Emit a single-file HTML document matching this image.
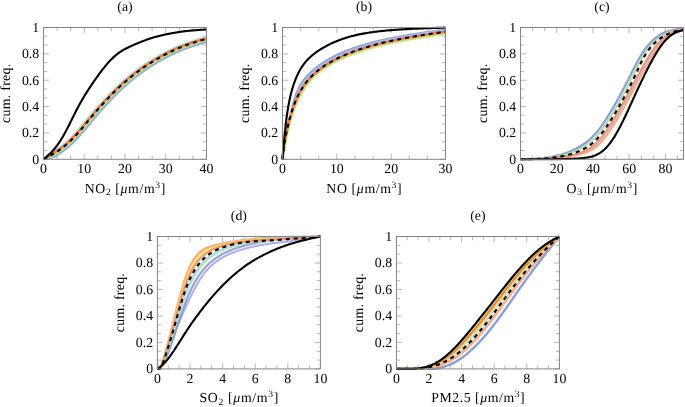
<!DOCTYPE html><html><head><meta charset="utf-8"><style>html,body{margin:0;padding:0;background:#fff;overflow:hidden;}svg{display:block;will-change:transform;}text{font-family:"Liberation Serif",serif;fill:#000;text-rendering:geometricPrecision;}</style></head><body>
<svg width="685" height="407" viewBox="0 0 685 407">
<rect width="685" height="407" fill="#fff"/>
<clipPath id="clipa"><rect x="42.00" y="26.00" width="166.00" height="134.80"/></clipPath>
<path d="M43.50 159.30v-5.60M43.50 27.50v5.60M57.08 159.30v-3.70M57.08 27.50v3.70M70.67 159.30v-3.70M70.67 27.50v3.70M84.25 159.30v-5.60M84.25 27.50v5.60M97.83 159.30v-3.70M97.83 27.50v3.70M111.42 159.30v-3.70M111.42 27.50v3.70M125.00 159.30v-5.60M125.00 27.50v5.60M138.58 159.30v-3.70M138.58 27.50v3.70M152.17 159.30v-3.70M152.17 27.50v3.70M165.75 159.30v-5.60M165.75 27.50v5.60M179.33 159.30v-3.70M179.33 27.50v3.70M192.92 159.30v-3.70M192.92 27.50v3.70M206.50 159.30v-5.60M206.50 27.50v5.60M43.50 159.30h5.60M206.50 159.30h-5.60M43.50 150.51h3.70M206.50 150.51h-3.70M43.50 141.73h3.70M206.50 141.73h-3.70M43.50 132.94h5.60M206.50 132.94h-5.60M43.50 124.15h3.70M206.50 124.15h-3.70M43.50 115.37h3.70M206.50 115.37h-3.70M43.50 106.58h5.60M206.50 106.58h-5.60M43.50 97.79h3.70M206.50 97.79h-3.70M43.50 89.01h3.70M206.50 89.01h-3.70M43.50 80.22h5.60M206.50 80.22h-5.60M43.50 71.43h3.70M206.50 71.43h-3.70M43.50 62.65h3.70M206.50 62.65h-3.70M43.50 53.86h5.60M206.50 53.86h-5.60M43.50 45.07h3.70M206.50 45.07h-3.70M43.50 36.29h3.70M206.50 36.29h-3.70M43.50 27.50h5.60M206.50 27.50h-5.60" stroke="#a4a4a4" stroke-width="0.8" fill="none"/>
<g clip-path="url(#clipa)" fill="none" stroke-linejoin="round" stroke-linecap="butt">
<path d="M43.50 159.30L44.67 159.03L45.84 158.75L47.01 158.47L48.19 158.19L49.37 157.90L50.56 157.61L51.75 157.31L52.95 157.00L54.16 156.69L55.25 156.14L56.29 155.51L57.34 154.85L58.39 154.18L59.23 153.64L60.07 153.07L60.91 152.50L61.76 151.91L62.60 151.31L63.44 150.69L64.29 150.05L65.13 149.40L65.98 148.74L66.82 148.06L67.66 147.36L68.51 146.64L69.35 145.91L70.19 145.17L71.03 144.40L71.87 143.62L72.71 142.83L73.55 142.02L74.38 141.19L75.22 140.35L76.05 139.49L76.89 138.62L77.72 137.74L78.55 136.84L79.38 135.93L80.21 135.01L81.04 134.08L81.87 133.14L82.70 132.18L83.52 131.22L84.35 130.25L85.17 129.28L85.99 128.30L86.81 127.31L87.63 126.33L88.45 125.34L89.27 124.35L90.08 123.35L90.90 122.37L91.71 121.38L92.53 120.40L93.34 119.42L94.15 118.44L94.96 117.47L95.78 116.50L96.59 115.55L97.39 114.60L98.20 113.65L99.01 112.72L99.82 111.79L100.63 110.87L101.43 109.96L102.24 109.06L103.05 108.16L103.86 107.27L104.67 106.38L105.48 105.50L106.29 104.62L107.10 103.75L107.91 102.89L108.72 102.02L109.53 101.17L110.34 100.32L111.15 99.47L111.96 98.63L112.77 97.80L113.58 96.97L114.38 96.15L115.19 95.34L116.00 94.53L116.81 93.73L117.61 92.93L118.42 92.14L119.23 91.36L120.03 90.59L120.84 89.82L121.64 89.07L122.45 88.31L123.25 87.57L124.06 86.84L124.86 86.11L125.67 85.39L126.47 84.69L127.27 83.99L128.07 83.29L128.88 82.61L129.68 81.93L130.48 81.26L131.29 80.60L132.09 79.95L132.90 79.30L133.70 78.65L134.51 78.01L135.31 77.38L136.12 76.75L136.93 76.13L137.74 75.51L138.54 74.89L139.35 74.28L140.16 73.68L140.96 73.08L141.97 72.34L142.97 71.61L143.98 70.90L144.98 70.19L145.98 69.49L146.98 68.80L147.98 68.13L148.98 67.47L149.98 66.82L150.99 66.18L151.99 65.55L152.99 64.92L154.00 64.31L155.00 63.70L156.01 63.10L157.02 62.50L158.03 61.91L159.03 61.33L160.04 60.75L161.05 60.18L162.06 59.62L163.07 59.06L164.08 58.50L165.08 57.96L166.09 57.42L167.09 56.89L168.09 56.37L169.09 55.86L170.10 55.36L171.10 54.86L172.10 54.37L173.10 53.90L174.11 53.42L175.11 52.96L176.11 52.51L177.11 52.06L178.11 51.62L179.11 51.19L180.12 50.77L181.12 50.36L182.12 49.95L183.12 49.55L184.12 49.16L185.13 48.77L186.13 48.39L187.13 48.02L188.14 47.66L189.14 47.30L190.14 46.95L191.15 46.60L192.15 46.27L193.16 45.93L194.16 45.61L195.17 45.28L196.17 44.97L197.18 44.66L198.19 44.35L199.20 44.05L200.21 43.75L201.22 43.45L202.23 43.16L203.24 42.87L204.26 42.58L205.28 42.29L206.29 42.01L206.50 41.72" stroke="#7f93d6" stroke-opacity="0.85" stroke-width="2.20"/>
<path d="M43.50 159.30L44.41 158.55L45.32 157.80L46.23 157.04L47.13 156.27L48.03 155.50L48.93 154.73L49.83 153.94L50.71 153.15L51.59 152.34L52.56 151.69L53.57 151.08L54.57 150.45L55.57 149.82L56.56 149.16L57.56 148.49L58.56 147.80L59.55 147.09L60.54 146.36L61.54 145.61L62.33 144.99L63.13 144.36L63.93 143.70L64.72 143.04L65.52 142.35L66.32 141.65L67.11 140.94L67.91 140.20L68.71 139.45L69.51 138.69L70.31 137.91L71.11 137.11L71.91 136.29L72.72 135.46L73.52 134.62L74.32 133.76L75.13 132.88L75.93 131.99L76.74 131.09L77.55 130.18L78.36 129.25L79.16 128.32L79.97 127.37L80.78 126.41L81.60 125.45L82.41 124.48L83.22 123.50L84.03 122.52L84.85 121.53L85.66 120.54L86.48 119.55L87.30 118.56L88.11 117.57L88.93 116.59L89.75 115.60L90.57 114.62L91.39 113.64L92.21 112.67L93.03 111.70L93.85 110.74L94.67 109.78L95.50 108.84L96.32 107.90L97.14 106.97L97.96 106.05L98.78 105.13L99.60 104.22L100.42 103.32L101.25 102.42L102.07 101.53L102.89 100.65L103.71 99.77L104.53 98.89L105.35 98.02L106.17 97.16L106.99 96.30L107.81 95.44L108.63 94.59L109.45 93.75L110.27 92.91L111.10 92.08L111.92 91.26L112.74 90.44L113.56 89.62L114.38 88.82L115.21 88.02L116.03 87.22L116.85 86.44L117.68 85.66L118.50 84.89L119.33 84.12L120.15 83.36L120.98 82.62L121.80 81.87L122.63 81.14L123.45 80.42L124.28 79.70L125.10 78.99L125.93 78.29L126.75 77.60L127.58 76.92L128.40 76.24L129.23 75.57L130.05 74.91L130.88 74.26L131.70 73.61L132.52 72.96L133.34 72.33L134.17 71.69L134.99 71.06L135.81 70.44L136.64 69.82L137.46 69.21L138.28 68.60L139.11 67.99L139.93 67.40L140.76 66.80L141.58 66.22L142.41 65.64L143.24 65.07L144.06 64.50L145.10 63.81L146.13 63.12L147.17 62.45L148.20 61.79L149.23 61.14L150.26 60.50L151.30 59.86L152.33 59.24L153.35 58.63L154.38 58.02L155.41 57.42L156.44 56.82L157.47 56.23L158.50 55.65L159.53 55.08L160.56 54.50L161.59 53.94L162.62 53.38L163.65 52.83L164.68 52.29L165.71 51.75L166.74 51.22L167.78 50.70L168.81 50.19L169.84 49.69L170.88 49.20L171.91 48.71L172.94 48.23L173.98 47.76L175.01 47.30L176.04 46.85L177.08 46.41L178.11 45.97L179.14 45.55L180.18 45.13L181.21 44.71L182.24 44.31L183.28 43.91L184.31 43.52L185.34 43.14L186.37 42.77L187.41 42.40L188.44 42.04L189.47 41.68L190.50 41.33L191.53 40.99L192.56 40.66L193.59 40.33L194.62 40.00L195.65 39.68L196.68 39.37L197.71 39.06L198.74 38.76L199.77 38.46L200.79 38.16L201.82 37.87L202.84 37.58L203.86 37.29L204.88 37.00L205.90 36.71" stroke="#a8dde8" stroke-opacity="0.80" stroke-width="1.80"/>
<path d="M43.50 159.30L44.60 158.91L45.71 158.51L46.82 158.11L47.93 157.71L49.04 157.30L50.15 156.89L51.27 156.47L52.39 156.04L53.52 155.60L54.58 155.03L55.61 154.40L56.65 153.75L57.68 153.09L58.72 152.41L59.55 151.86L60.38 151.29L61.21 150.70L62.05 150.10L62.88 149.49L63.71 148.86L64.54 148.22L65.37 147.56L66.21 146.88L67.04 146.19L67.87 145.48L68.70 144.75L69.53 144.01L70.36 143.25L71.19 142.48L72.02 141.69L72.84 140.89L73.67 140.06L74.50 139.23L75.33 138.38L76.15 137.51L76.98 136.63L77.80 135.74L78.63 134.83L79.45 133.92L80.27 132.99L81.10 132.05L81.92 131.10L82.74 130.14L83.56 129.17L84.38 128.20L85.20 127.22L86.02 126.24L86.83 125.25L87.65 124.26L88.47 123.27L89.28 122.28L90.10 121.29L90.92 120.30L91.73 119.32L92.54 118.34L93.36 117.36L94.17 116.39L94.98 115.43L95.80 114.47L96.61 113.51L97.42 112.57L98.23 111.63L99.04 110.71L99.85 109.78L100.67 108.87L101.48 107.96L102.29 107.06L103.10 106.17L103.91 105.28L104.73 104.40L105.54 103.52L106.35 102.65L107.16 101.78L107.98 100.92L108.79 100.06L109.60 99.21L110.41 98.36L111.23 97.52L112.04 96.69L112.85 95.86L113.66 95.03L114.47 94.22L115.28 93.41L116.10 92.60L116.91 91.80L117.72 91.01L118.53 90.23L119.34 89.46L120.15 88.69L120.96 87.93L121.77 87.17L122.58 86.43L123.39 85.69L124.20 84.96L125.00 84.24L125.81 83.53L126.62 82.83L127.43 82.13L128.24 81.45L129.05 80.77L129.86 80.10L130.67 79.43L131.48 78.77L132.29 78.12L133.10 77.47L133.91 76.83L134.72 76.20L135.53 75.57L136.34 74.94L137.15 74.32L137.96 73.70L138.77 73.09L139.58 72.49L140.39 71.89L141.20 71.29L142.01 70.71L143.02 69.98L144.03 69.26L145.04 68.56L146.05 67.87L147.06 67.18L148.07 66.51L149.08 65.86L150.09 65.21L151.10 64.57L152.11 63.94L153.12 63.32L154.13 62.71L155.14 62.10L156.16 61.50L157.17 60.91L158.18 60.32L159.20 59.74L160.21 59.16L161.22 58.59L162.24 58.03L163.25 57.47L164.26 56.92L165.27 56.38L166.28 55.85L167.30 55.32L168.31 54.80L169.32 54.29L170.33 53.79L171.34 53.30L172.35 52.82L173.35 52.34L174.36 51.87L175.37 51.41L176.38 50.96L177.39 50.52L178.40 50.08L179.41 49.66L180.42 49.24L181.43 48.82L182.44 48.42L183.45 48.02L184.46 47.63L185.47 47.25L186.48 46.88L187.49 46.51L188.50 46.15L189.51 45.79L190.53 45.44L191.54 45.10L192.55 44.76L193.56 44.43L194.57 44.11L195.58 43.79L196.60 43.48L197.61 43.17L198.62 42.86L199.64 42.56L200.65 42.26L201.67 41.97L202.68 41.68L203.70 41.39L204.72 41.10L205.74 40.81L206.50 40.47" stroke="#a9d89a" stroke-opacity="0.90" stroke-width="2.20"/>
<path d="M43.50 159.30L44.49 158.70L45.48 158.09L46.47 157.48L47.46 156.86L48.45 156.24L49.43 155.61L50.42 154.98L51.40 154.33L52.38 153.68L53.39 153.06L54.41 152.44L55.42 151.81L56.43 151.16L57.45 150.50L58.46 149.81L59.48 149.11L60.49 148.39L61.30 147.80L62.11 147.19L62.92 146.56L63.73 145.93L64.54 145.27L65.35 144.60L66.16 143.91L66.97 143.21L67.78 142.49L68.59 141.75L69.41 141.00L70.22 140.23L71.03 139.44L71.84 138.64L72.65 137.83L73.47 136.99L74.28 136.14L75.09 135.28L75.90 134.41L76.72 133.52L77.53 132.61L78.34 131.70L79.16 130.77L79.97 129.83L80.78 128.88L81.60 127.93L82.41 126.96L83.23 125.99L84.04 125.01L84.86 124.03L85.67 123.04L86.49 122.06L87.31 121.07L88.12 120.08L88.94 119.09L89.76 118.10L90.57 117.11L91.39 116.13L92.21 115.16L93.02 114.18L93.84 113.22L94.66 112.26L95.47 111.30L96.29 110.36L97.11 109.42L97.93 108.49L98.75 107.57L99.56 106.65L100.38 105.75L101.20 104.84L102.01 103.95L102.83 103.06L103.65 102.18L104.47 101.30L105.28 100.42L106.10 99.55L106.92 98.69L107.74 97.83L108.55 96.98L109.37 96.13L110.19 95.29L111.01 94.45L111.82 93.62L112.64 92.80L113.46 91.98L114.28 91.17L115.09 90.36L115.91 89.56L116.73 88.77L117.55 87.99L118.37 87.21L119.18 86.44L120.00 85.68L120.82 84.92L121.64 84.17L122.46 83.43L123.28 82.70L124.09 81.98L124.91 81.27L125.73 80.56L126.55 79.86L127.37 79.17L128.19 78.49L129.01 77.82L129.82 77.15L130.64 76.49L131.46 75.84L132.28 75.19L133.10 74.55L133.91 73.91L134.73 73.28L135.55 72.65L136.37 72.03L137.19 71.41L138.00 70.80L138.82 70.19L139.64 69.59L140.46 68.99L141.28 68.40L142.10 67.82L142.91 67.24L143.94 66.53L144.96 65.83L145.99 65.14L147.01 64.46L148.03 63.79L149.06 63.14L150.08 62.49L151.10 61.86L152.13 61.23L153.15 60.61L154.17 60.00L155.19 59.40L156.22 58.80L157.24 58.21L158.26 57.62L159.28 57.05L160.31 56.47L161.33 55.91L162.35 55.34L163.37 54.79L164.40 54.24L165.42 53.70L166.44 53.17L167.47 52.65L168.49 52.13L169.51 51.63L170.54 51.13L171.56 50.64L172.59 50.16L173.61 49.69L174.63 49.22L175.66 48.77L176.68 48.32L177.70 47.88L178.73 47.45L179.75 47.03L180.78 46.61L181.80 46.20L182.82 45.80L183.85 45.41L184.87 45.02L185.89 44.64L186.92 44.27L187.94 43.91L188.96 43.55L189.99 43.20L191.01 42.85L192.03 42.51L193.06 42.18L194.08 41.85L195.10 41.53L196.12 41.21L197.15 40.90L198.17 40.60L199.19 40.29L200.21 40.00L201.23 39.70L202.26 39.41L203.28 39.12L204.30 38.83L205.32 38.54L206.34 38.25" stroke="#f37b3a" stroke-opacity="1.00" stroke-width="2.40"/>
<path d="M43.50 159.30L44.32 158.64L45.13 157.96L45.95 157.27L46.76 156.58L47.58 155.86L48.40 155.13L49.21 154.38L50.03 153.60L50.84 152.79L51.66 151.96L52.48 151.09L53.29 150.18L54.11 149.24L54.92 148.26L55.74 147.24L56.35 146.45L56.96 145.63L57.58 144.79L58.19 143.93L58.80 143.04L59.41 142.13L60.02 141.19L60.64 140.24L61.25 139.26L61.86 138.25L62.47 137.23L63.08 136.18L63.70 135.12L64.31 134.03L64.92 132.92L65.53 131.80L66.14 130.66L66.76 129.50L67.37 128.33L67.98 127.14L68.59 125.94L69.20 124.73L69.82 123.51L70.43 122.28L71.04 121.05L71.65 119.81L72.26 118.57L72.88 117.33L73.49 116.10L74.10 114.86L74.71 113.64L75.32 112.42L75.94 111.22L76.55 110.03L77.16 108.85L77.77 107.69L78.38 106.54L79.00 105.40L79.61 104.28L80.22 103.18L80.83 102.09L81.44 101.01L82.06 99.94L82.67 98.89L83.28 97.86L83.89 96.83L84.51 95.82L85.12 94.82L85.73 93.83L86.34 92.86L86.95 91.89L87.57 90.93L88.18 89.98L88.79 89.04L89.40 88.11L90.01 87.18L90.63 86.26L91.24 85.35L91.85 84.44L92.46 83.54L93.07 82.64L93.69 81.75L94.30 80.86L94.91 79.98L95.52 79.11L96.13 78.24L96.75 77.38L97.36 76.52L97.97 75.67L98.58 74.83L99.19 73.99L99.81 73.16L100.42 72.34L101.03 71.53L101.64 70.73L102.25 69.93L103.07 68.88L103.89 67.85L104.70 66.84L105.52 65.84L106.33 64.87L107.15 63.91L107.97 62.98L108.78 62.07L109.60 61.18L110.41 60.31L111.23 59.47L112.05 58.66L112.86 57.87L113.68 57.11L114.49 56.37L115.31 55.66L116.13 54.98L116.94 54.32L117.76 53.69L118.57 53.08L119.39 52.49L120.41 51.79L121.43 51.13L122.45 50.49L123.47 49.89L124.49 49.31L125.51 48.75L126.53 48.22L127.55 47.71L128.57 47.21L129.59 46.73L130.61 46.26L131.63 45.79L132.65 45.34L133.67 44.90L134.69 44.46L135.71 44.03L136.73 43.60L137.75 43.18L138.77 42.76L139.79 42.35L140.81 41.94L141.83 41.54L142.85 41.14L143.87 40.74L144.89 40.36L145.91 39.98L146.93 39.61L147.95 39.24L148.97 38.89L149.99 38.54L151.01 38.21L152.03 37.89L153.05 37.57L154.07 37.27L155.09 36.98L156.11 36.69L157.13 36.42L158.15 36.15L159.17 35.90L160.19 35.65L161.21 35.41L162.23 35.18L163.25 34.95L164.27 34.73L165.29 34.52L166.31 34.31L167.33 34.10L168.35 33.90L169.37 33.69L170.39 33.50L171.41 33.30L172.43 33.12L173.45 32.94L174.47 32.76L175.49 32.59L176.51 32.42L177.53 32.26L178.55 32.10L179.57 31.95L180.59 31.80L181.61 31.66L182.63 31.52L183.65 31.39L184.67 31.27L185.69 31.15L186.71 31.03L187.73 30.92L188.75 30.81L189.77 30.71L190.79 30.61L191.81 30.52L192.83 30.43L193.85 30.34L194.87 30.26L195.89 30.18L196.91 30.10L197.93 30.03L198.95 29.96L199.97 29.89L200.99 29.82L202.01 29.76L203.03 29.69L204.05 29.63L205.07 29.56L206.09 29.50L206.50 29.48" stroke="#000" stroke-width="2.10"/>
<path d="M43.50 159.30L44.52 158.75L45.54 158.20L46.56 157.64L47.58 157.08L48.60 156.52L49.62 155.95L50.64 155.37L51.66 154.78L52.68 154.18L53.70 153.57L54.72 152.95L55.74 152.32L56.76 151.66L57.78 151.00L58.80 150.31L59.82 149.60L60.64 149.02L61.45 148.43L62.27 147.82L63.08 147.20L63.90 146.56L64.72 145.90L65.53 145.23L66.35 144.54L67.16 143.84L67.98 143.12L68.80 142.38L69.61 141.63L70.43 140.86L71.24 140.07L72.06 139.27L72.88 138.45L73.69 137.62L74.51 136.77L75.32 135.91L76.14 135.03L76.96 134.14L77.77 133.24L78.59 132.32L79.40 131.40L80.22 130.46L81.04 129.51L81.85 128.56L82.67 127.59L83.48 126.62L84.30 125.64L85.12 124.66L85.93 123.67L86.75 122.68L87.57 121.69L88.38 120.70L89.20 119.72L90.01 118.73L90.83 117.74L91.65 116.76L92.46 115.79L93.28 114.81L94.09 113.85L94.91 112.89L95.73 111.93L96.54 110.99L97.36 110.05L98.17 109.12L98.99 108.20L99.81 107.28L100.62 106.37L101.44 105.47L102.25 104.58L103.07 103.69L103.89 102.80L104.70 101.92L105.52 101.05L106.33 100.18L107.15 99.32L107.97 98.46L108.78 97.61L109.60 96.76L110.41 95.92L111.23 95.08L112.05 94.25L112.86 93.43L113.68 92.61L114.49 91.80L115.31 90.99L116.13 90.19L116.94 89.40L117.76 88.62L118.57 87.84L119.39 87.07L120.21 86.30L121.02 85.55L121.84 84.80L122.65 84.06L123.47 83.33L124.29 82.61L125.10 81.90L125.92 81.19L126.73 80.49L127.55 79.80L128.37 79.12L129.18 78.45L130.00 77.78L130.81 77.12L131.63 76.47L132.45 75.82L133.26 75.18L134.08 74.54L134.89 73.91L135.71 73.28L136.53 72.66L137.34 72.04L138.16 71.43L138.97 70.82L139.79 70.22L140.61 69.62L141.42 69.03L142.24 68.45L143.26 67.73L144.28 67.02L145.30 66.32L146.32 65.64L147.34 64.96L148.36 64.30L149.38 63.64L150.40 63.00L151.42 62.37L152.44 61.74L153.46 61.13L154.48 60.52L155.50 59.92L156.52 59.32L157.54 58.73L158.56 58.15L159.58 57.57L160.60 57.00L161.62 56.43L162.64 55.87L163.66 55.32L164.68 54.77L165.70 54.23L166.72 53.71L167.74 53.18L168.76 52.67L169.78 52.17L170.80 51.67L171.82 51.18L172.84 50.70L173.86 50.23L174.88 49.77L175.90 49.32L176.92 48.87L177.94 48.43L178.96 48.00L179.98 47.58L181.00 47.17L182.02 46.76L183.04 46.36L184.06 45.97L185.08 45.58L186.10 45.21L187.12 44.84L188.14 44.47L189.16 44.12L190.18 43.76L191.20 43.42L192.22 43.08L193.24 42.75L194.26 42.42L195.28 42.10L196.30 41.79L197.32 41.48L198.34 41.17L199.36 40.87L200.38 40.57L201.40 40.28L202.42 39.99L203.44 39.70L204.46 39.41L205.48 39.12L206.50 38.83" stroke="#000" stroke-width="2.10" stroke-dasharray="4 4"/>
</g>
<rect x="43.50" y="27.50" width="163.00" height="131.80" fill="none" stroke="#858585" stroke-width="1"/>
<text x="39.20" y="163.60" font-size="13.80" text-anchor="end">0</text>
<text x="39.20" y="137.24" font-size="13.80" text-anchor="end">0.2</text>
<text x="39.20" y="110.88" font-size="13.80" text-anchor="end">0.4</text>
<text x="39.20" y="84.52" font-size="13.80" text-anchor="end">0.6</text>
<text x="39.20" y="58.16" font-size="13.80" text-anchor="end">0.8</text>
<text x="39.20" y="31.80" font-size="13.80" text-anchor="end">1</text>
<text x="43.50" y="172.90" font-size="13.80" text-anchor="middle">0</text>
<text x="84.25" y="172.90" font-size="13.80" text-anchor="middle">10</text>
<text x="125.00" y="172.90" font-size="13.80" text-anchor="middle">20</text>
<text x="165.75" y="172.90" font-size="13.80" text-anchor="middle">30</text>
<text x="206.50" y="172.90" font-size="13.80" text-anchor="middle">40</text>
<text x="125.00" y="192.80" font-size="13.80" text-anchor="middle" textLength="80.5" lengthAdjust="spacing">NO<tspan font-size="9.6" dy="2.2">2</tspan><tspan dy="-2.2"> </tspan>[<tspan font-style="italic">μ</tspan>m/m<tspan font-size="9.6" dy="-5.2">3</tspan><tspan dy="5.2">]</tspan></text>
<text transform="translate(9.90 93.40) rotate(-90)" font-size="13.80" text-anchor="middle" textLength="59" lengthAdjust="spacing">cum. freq.</text>
<text x="125.00" y="11.30" font-size="13.80" text-anchor="middle">(a)</text>
<clipPath id="clipb"><rect x="281.00" y="26.00" width="166.00" height="134.80"/></clipPath>
<path d="M282.50 159.30v-5.60M282.50 27.50v5.60M300.61 159.30v-3.70M300.61 27.50v3.70M318.72 159.30v-3.70M318.72 27.50v3.70M336.83 159.30v-5.60M336.83 27.50v5.60M354.94 159.30v-3.70M354.94 27.50v3.70M373.06 159.30v-3.70M373.06 27.50v3.70M391.17 159.30v-5.60M391.17 27.50v5.60M409.28 159.30v-3.70M409.28 27.50v3.70M427.39 159.30v-3.70M427.39 27.50v3.70M445.50 159.30v-5.60M445.50 27.50v5.60M282.50 159.30h5.60M445.50 159.30h-5.60M282.50 150.51h3.70M445.50 150.51h-3.70M282.50 141.73h3.70M445.50 141.73h-3.70M282.50 132.94h5.60M445.50 132.94h-5.60M282.50 124.15h3.70M445.50 124.15h-3.70M282.50 115.37h3.70M445.50 115.37h-3.70M282.50 106.58h5.60M445.50 106.58h-5.60M282.50 97.79h3.70M445.50 97.79h-3.70M282.50 89.01h3.70M445.50 89.01h-3.70M282.50 80.22h5.60M445.50 80.22h-5.60M282.50 71.43h3.70M445.50 71.43h-3.70M282.50 62.65h3.70M445.50 62.65h-3.70M282.50 53.86h5.60M445.50 53.86h-5.60M282.50 45.07h3.70M445.50 45.07h-3.70M282.50 36.29h3.70M445.50 36.29h-3.70M282.50 27.50h5.60M445.50 27.50h-5.60" stroke="#a4a4a4" stroke-width="0.8" fill="none"/>
<g clip-path="url(#clipb)" fill="none" stroke-linejoin="round" stroke-linecap="butt">
<path d="M282.50 159.30L282.52 158.28L282.58 157.27L282.67 156.25L282.78 155.20L282.89 154.16L283.01 153.14L283.15 152.09L283.28 151.04L283.42 150.03L283.57 148.93L283.72 147.91L283.88 146.82L284.06 145.68L284.22 144.64L284.40 143.57L284.58 142.45L284.78 141.28L284.96 140.28L285.14 139.25L285.34 138.18L285.54 137.09L285.76 135.98L285.98 134.83L286.22 133.66L286.46 132.46L286.72 131.23L286.94 130.24L287.16 129.22L287.39 128.19L287.62 127.15L287.87 126.09L288.12 125.02L288.39 123.93L288.66 122.83L288.93 121.71L289.22 120.59L289.52 119.45L289.82 118.31L290.14 117.16L290.46 116.00L290.80 114.83L291.14 113.67L291.41 112.47L291.64 111.26L291.88 110.04L292.13 108.82L292.39 107.60L292.66 106.39L292.95 105.18L293.25 103.97L293.56 102.77L293.89 101.57L294.23 100.38L294.58 99.20L294.95 98.02L295.33 96.85L295.73 95.68L296.15 94.53L296.58 93.38L297.02 92.25L297.49 91.12L297.97 90.00L298.46 88.89L298.98 87.79L299.51 86.71L300.06 85.63L300.67 84.58L301.35 83.59L302.04 82.60L302.75 81.63L303.48 80.67L304.22 79.72L304.98 78.78L305.75 77.86L306.54 76.95L307.35 76.05L308.17 75.16L309.00 74.28L309.86 73.42L310.73 72.57L311.62 71.73L312.52 70.91L313.44 70.10L314.38 69.30L315.33 68.51L316.30 67.73L317.29 66.96L318.30 66.21L319.32 65.46L320.36 64.72L321.41 63.99L322.48 63.27L323.57 62.56L324.68 61.85L325.81 61.15L326.67 60.63L327.53 60.11L328.41 59.60L329.30 59.09L330.20 58.58L331.11 58.08L332.03 57.58L332.97 57.08L333.91 56.59L334.87 56.10L335.83 55.62L336.81 55.14L337.80 54.66L338.80 54.18L339.82 53.71L340.84 53.25L341.88 52.78L342.92 52.32L343.98 51.87L345.06 51.42L346.14 50.97L347.24 50.54L348.36 50.12L349.49 49.70L350.63 49.29L351.78 48.88L352.95 48.48L354.12 48.07L355.31 47.67L356.52 47.28L357.73 46.88L358.96 46.49L360.20 46.11L361.45 45.72L362.72 45.34L364.00 44.97L365.29 44.59L366.59 44.22L367.91 43.85L369.25 43.49L370.59 43.13L371.95 42.77L373.32 42.41L374.71 42.06L376.11 41.71L377.53 41.37L378.96 41.03L380.40 40.69L381.86 40.35L382.83 40.13L383.82 39.91L384.81 39.69L385.81 39.47L386.82 39.25L387.83 39.04L388.85 38.83L389.87 38.61L390.90 38.40L391.94 38.19L392.98 37.98L394.03 37.77L395.09 37.57L396.16 37.36L397.23 37.16L398.31 36.96L399.39 36.75L400.48 36.55L401.58 36.35L402.69 36.16L403.80 35.96L404.92 35.76L406.04 35.57L407.18 35.37L408.31 35.18L409.46 34.99L410.62 34.80L411.78 34.60L412.94 34.41L414.12 34.23L415.30 34.04L416.49 33.85L417.69 33.66L418.89 33.47L420.10 33.29L421.32 33.10L422.55 32.92L423.78 32.73L425.02 32.55L426.27 32.36L427.52 32.18L428.79 31.99L430.06 31.81L431.34 31.63L432.62 31.45L433.92 31.26L435.22 31.08L436.52 30.90L437.84 30.72L439.16 30.54L440.50 30.35L441.84 30.17L443.18 29.99L444.54 29.81L445.22 29.72" stroke="#7f93d6" stroke-opacity="0.85" stroke-width="2.40"/>
<path d="M282.50 159.30L282.52 158.28L282.58 157.27L282.67 156.25L282.78 155.20L282.89 154.16L283.01 153.14L283.15 152.09L283.28 151.04L283.42 150.03L283.57 148.93L283.72 147.91L283.88 146.82L284.06 145.68L284.22 144.64L284.40 143.57L284.58 142.45L284.78 141.28L284.96 140.28L285.14 139.25L285.34 138.18L285.54 137.09L285.76 135.98L285.98 134.83L286.22 133.66L286.46 132.46L286.72 131.23L286.94 130.24L287.16 129.22L287.39 128.19L287.62 127.15L287.87 126.09L288.12 125.02L288.39 123.93L288.66 122.83L288.93 121.71L289.22 120.59L289.52 119.45L289.82 118.31L290.14 117.16L290.46 116.00L290.80 114.83L291.14 113.67L291.45 112.48L291.73 111.28L292.03 110.09L292.34 108.89L292.66 107.70L292.99 106.51L293.33 105.32L293.69 104.14L294.05 102.96L294.43 101.79L294.83 100.63L295.23 99.48L295.65 98.33L296.08 97.19L296.53 96.06L296.99 94.94L297.46 93.84L297.95 92.74L298.46 91.65L298.98 90.57L299.51 89.51L300.06 88.45L300.63 87.41L301.21 86.37L301.83 85.36L302.51 84.39L303.19 83.43L303.89 82.48L304.61 81.54L305.34 80.61L306.08 79.69L306.85 78.79L307.62 77.90L308.42 77.02L309.22 76.15L310.05 75.30L310.89 74.46L311.74 73.63L312.62 72.81L313.51 72.01L314.41 71.21L315.33 70.43L316.27 69.66L317.23 68.90L318.20 68.15L319.19 67.41L320.20 66.68L321.22 65.95L322.26 65.24L323.32 64.53L324.40 63.83L325.49 63.14L326.61 62.45L327.74 61.77L328.89 61.09L329.76 60.59L330.65 60.09L331.55 59.60L332.46 59.10L333.38 58.61L334.31 58.13L335.25 57.65L336.20 57.17L337.17 56.69L338.15 56.22L339.13 55.75L340.13 55.29L341.14 54.83L342.17 54.37L343.20 53.92L344.25 53.47L345.31 53.02L346.38 52.57L347.46 52.13L348.56 51.70L349.67 51.26L350.79 50.83L351.92 50.41L353.06 49.98L354.22 49.56L355.39 49.15L356.58 48.73L357.77 48.32L358.98 47.92L360.20 47.51L361.44 47.11L362.69 46.72L363.95 46.32L365.23 45.93L366.52 45.54L367.82 45.16L369.14 44.78L370.47 44.40L371.81 44.02L373.17 43.65L374.54 43.28L375.93 42.92L377.33 42.56L378.74 42.20L380.17 41.84L381.62 41.49L383.08 41.14L384.06 40.91L385.04 40.68L386.04 40.45L387.04 40.23L388.04 40.00L389.06 39.78L390.08 39.55L391.10 39.33L392.14 39.11L393.18 38.89L394.22 38.68L395.28 38.46L396.34 38.24L397.40 38.03L398.48 37.82L399.56 37.61L400.64 37.40L401.74 37.19L402.84 36.98L403.95 36.77L405.06 36.57L406.19 36.36L407.32 36.16L408.45 35.96L409.60 35.76L410.75 35.55L411.91 35.35L413.07 35.15L414.24 34.96L415.42 34.76L416.61 34.56L417.80 34.36L419.00 34.17L420.21 33.97L421.43 33.78L422.65 33.58L423.88 33.39L425.12 33.19L426.37 33.00L427.62 32.81L428.88 32.62L430.15 32.42L431.43 32.23L432.71 32.04L434.00 31.85L435.30 31.66L436.61 31.47L437.92 31.27L439.24 31.08L440.57 30.89L441.91 30.70L443.26 30.51L444.61 30.32L445.29 30.22" stroke="#a9bbe8" stroke-opacity="0.80" stroke-width="2.20"/>
<path d="M282.50 159.30L282.64 158.28L282.82 157.29L283.04 156.29L283.29 155.25L283.55 154.24L283.70 153.23L283.85 152.18L284.00 151.14L284.15 150.13L284.32 149.04L284.48 148.02L284.66 146.94L284.86 145.80L285.03 144.77L285.22 143.71L285.43 142.59L285.64 141.43L285.83 140.44L286.03 139.41L286.24 138.35L286.46 137.27L286.69 136.16L286.93 135.02L287.19 133.85L287.45 132.66L287.72 131.45L287.95 130.46L288.19 129.45L288.43 128.43L288.68 127.39L288.94 126.34L289.21 125.28L289.49 124.20L289.78 123.10L290.07 122.00L290.37 120.88L290.69 119.76L291.04 118.64L291.39 117.50L291.75 116.36L292.13 115.22L292.51 114.07L292.90 112.93L293.31 111.78L293.72 110.63L294.14 109.49L294.57 108.35L295.01 107.22L295.46 106.10L295.92 104.98L296.39 103.87L296.87 102.77L297.36 101.69L297.86 100.61L298.38 99.54L298.90 98.49L299.43 97.44L299.98 96.42L300.53 95.40L301.09 94.40L301.64 93.39L302.19 92.39L302.76 91.41L303.34 90.44L303.93 89.48L304.53 88.53L305.15 87.59L305.79 86.67L306.43 85.75L307.09 84.85L307.76 83.96L308.45 83.08L309.15 82.21L309.86 81.36L310.59 80.51L311.34 79.68L312.10 78.86L312.87 78.05L313.66 77.26L314.47 76.47L315.29 75.69L316.13 74.93L316.98 74.17L317.85 73.43L318.74 72.69L319.65 71.97L320.57 71.25L321.52 70.54L322.48 69.84L323.45 69.14L324.45 68.45L325.47 67.77L326.50 67.09L327.56 66.42L328.63 65.75L329.72 65.09L330.84 64.44L331.97 63.78L333.12 63.14L334.00 62.66L334.88 62.18L335.78 61.70L336.69 61.23L337.62 60.76L338.55 60.30L339.49 59.84L340.45 59.38L341.42 58.92L342.40 58.47L343.39 58.02L344.40 57.57L345.42 57.13L346.45 56.69L347.49 56.25L348.54 55.82L349.61 55.39L350.69 54.96L351.78 54.54L352.89 54.12L354.00 53.70L355.14 53.28L356.28 52.87L357.44 52.46L358.61 52.05L359.79 51.65L360.99 51.25L362.20 50.85L363.42 50.46L364.66 50.07L365.91 49.68L367.18 49.30L368.46 48.91L369.75 48.53L371.06 48.16L372.38 47.79L373.71 47.42L375.06 47.05L376.43 46.69L377.81 46.33L379.20 45.97L380.61 45.61L382.03 45.26L383.47 44.91L384.92 44.57L385.89 44.34L386.88 44.11L387.87 43.89L388.86 43.66L389.87 43.44L390.88 43.22L391.89 43.00L392.92 42.78L393.95 42.56L394.98 42.34L396.03 42.13L397.08 41.92L398.14 41.70L399.20 41.49L400.27 41.28L401.35 41.07L402.44 40.86L403.53 40.65L404.63 40.45L405.74 40.24L406.86 40.04L407.98 39.83L409.11 39.63L410.25 39.43L411.39 39.23L412.54 39.03L413.70 38.83L414.87 38.63L416.04 38.43L417.22 38.23L418.41 38.04L419.61 37.84L420.81 37.65L422.02 37.45L423.24 37.26L424.46 37.06L425.70 36.87L426.94 36.67L428.19 36.48L429.44 36.29L430.71 36.09L431.98 35.90L433.26 35.71L434.55 35.52L435.84 35.33L437.15 35.13L438.46 34.94L439.78 34.75L441.10 34.56L442.44 34.37L443.78 34.18L445.13 33.99L445.50 33.89" stroke="#c3e07a" stroke-opacity="0.90" stroke-width="2.20"/>
<path d="M282.50 159.30L282.58 158.28L282.71 157.28L282.87 156.27L283.06 155.23L283.27 154.21L283.42 153.19L283.57 152.15L283.72 151.10L283.87 150.09L284.04 149.00L284.21 147.98L284.39 146.90L284.58 145.76L284.76 144.73L284.96 143.66L285.16 142.55L285.38 141.39L285.57 140.39L285.77 139.36L285.99 138.31L286.21 137.22L286.44 136.11L286.68 134.97L286.94 133.80L287.21 132.61L287.48 131.40L287.71 130.40L287.95 129.40L288.20 128.38L288.45 127.34L288.71 126.29L288.98 125.22L289.26 124.14L289.55 123.05L289.85 121.94L290.15 120.83L290.47 119.70L290.79 118.57L291.12 117.43L291.46 116.28L291.81 115.13L292.17 113.97L292.54 112.82L292.92 111.66L293.31 110.50L293.71 109.35L294.12 108.20L294.54 107.05L294.95 105.91L295.37 104.77L295.81 103.65L296.25 102.52L296.70 101.41L297.17 100.31L297.65 99.22L298.14 98.14L298.64 97.07L299.15 96.01L299.67 94.96L300.21 93.93L300.76 92.91L301.32 91.90L301.89 90.91L302.48 89.92L303.08 88.95L303.70 87.99L304.32 87.04L304.96 86.10L305.62 85.17L306.29 84.25L306.97 83.35L307.67 82.46L308.38 81.58L309.10 80.71L309.84 79.85L310.60 79.01L311.37 78.18L312.16 77.35L312.96 76.55L313.78 75.75L314.61 74.96L315.46 74.18L316.33 73.42L317.21 72.66L318.11 71.92L319.03 71.18L319.97 70.46L320.92 69.74L321.89 69.03L322.88 68.32L323.89 67.63L324.92 66.94L325.96 66.25L327.03 65.57L328.11 64.90L329.21 64.23L330.33 63.57L331.47 62.91L332.63 62.26L333.52 61.78L334.41 61.30L335.32 60.82L336.24 60.34L337.17 59.87L338.11 59.40L339.06 58.94L340.02 58.47L341.00 58.01L341.98 57.56L342.98 57.11L344.00 56.66L345.02 56.21L346.06 55.77L347.10 55.33L348.16 54.89L349.24 54.46L350.32 54.03L351.42 53.60L352.53 53.18L353.66 52.76L354.79 52.34L355.94 51.93L357.11 51.52L358.28 51.11L359.47 50.70L360.67 50.30L361.89 49.90L363.12 49.51L364.36 49.11L365.62 48.72L366.89 48.34L368.17 47.95L369.47 47.57L370.78 47.20L372.11 46.82L373.45 46.45L374.80 46.08L376.17 45.72L377.55 45.36L378.95 45.00L380.36 44.64L381.79 44.29L383.23 43.94L384.69 43.60L385.67 43.37L386.65 43.14L387.64 42.91L388.64 42.69L389.65 42.46L390.66 42.24L391.68 42.02L392.71 41.80L393.74 41.58L394.78 41.37L395.83 41.15L396.88 40.93L397.94 40.72L399.01 40.51L400.08 40.30L401.16 40.09L402.25 39.88L403.35 39.67L404.45 39.46L405.56 39.26L406.68 39.05L407.80 38.85L408.93 38.65L410.07 38.44L411.22 38.24L412.37 38.04L413.53 37.84L414.70 37.64L415.87 37.45L417.06 37.25L418.25 37.05L419.44 36.85L420.65 36.66L421.86 36.46L423.08 36.27L424.31 36.07L425.54 35.88L426.79 35.69L428.04 35.49L429.29 35.30L430.56 35.11L431.83 34.91L433.11 34.72L434.40 34.53L435.70 34.34L437.00 34.14L438.31 33.95L439.63 33.76L440.96 33.57L442.29 33.38L443.64 33.19L444.99 33.00L445.50 32.90" stroke="#a9d89a" stroke-opacity="0.80" stroke-width="1.80"/>
<path d="M282.50 159.30L282.52 158.28L282.58 157.27L282.67 156.25L282.78 155.20L282.89 154.16L283.01 153.14L283.15 152.09L283.28 151.04L283.42 150.03L283.57 148.93L283.72 147.91L283.88 146.82L284.06 145.68L284.22 144.64L284.40 143.57L284.58 142.45L284.78 141.28L284.96 140.28L285.14 139.25L285.34 138.18L285.54 137.09L285.76 135.98L285.98 134.83L286.22 133.66L286.46 132.46L286.72 131.23L286.94 130.24L287.16 129.22L287.39 128.19L287.62 127.15L287.87 126.09L288.12 125.02L288.39 123.93L288.66 122.83L288.93 121.71L289.22 120.59L289.52 119.45L289.82 118.31L290.14 117.16L290.46 116.00L290.80 114.83L291.14 113.67L291.49 112.49L291.85 111.32L292.23 110.15L292.61 108.98L293.00 107.82L293.41 106.65L293.82 105.50L294.25 104.35L294.69 103.21L295.14 102.08L295.60 100.95L296.07 99.84L296.55 98.73L297.05 97.63L297.55 96.55L298.07 95.48L298.60 94.42L299.15 93.37L299.71 92.33L300.28 91.31L300.86 90.30L301.46 89.30L302.07 88.31L302.69 87.33L303.33 86.37L303.98 85.41L304.64 84.47L305.32 83.54L306.02 82.62L306.73 81.71L307.45 80.81L308.19 79.93L308.94 79.06L309.71 78.20L310.50 77.35L311.30 76.52L312.11 75.69L312.95 74.88L313.79 74.08L314.66 73.29L315.54 72.51L316.44 71.75L317.35 70.99L318.29 70.24L319.24 69.50L320.20 68.77L321.19 68.05L322.19 67.34L323.21 66.63L324.25 65.94L325.31 65.24L326.39 64.56L327.48 63.88L328.60 63.20L329.73 62.53L330.88 61.87L331.76 61.38L332.65 60.89L333.55 60.40L334.46 59.92L335.38 59.43L336.31 58.96L337.26 58.48L338.21 58.01L339.18 57.54L340.16 57.08L341.15 56.62L342.16 56.16L343.17 55.71L344.20 55.26L345.24 54.81L346.29 54.37L347.35 53.93L348.43 53.49L349.52 53.06L350.62 52.63L351.74 52.20L352.86 51.78L354.00 51.35L355.15 50.94L356.32 50.52L357.50 50.11L358.69 49.70L359.89 49.30L361.11 48.90L362.34 48.50L363.59 48.10L364.84 47.71L366.12 47.32L367.40 46.93L368.70 46.55L370.01 46.17L371.34 45.79L372.68 45.42L374.04 45.05L375.41 44.68L376.79 44.32L378.19 43.96L379.60 43.60L381.03 43.24L382.47 42.89L383.92 42.54L384.90 42.31L385.89 42.08L386.88 41.86L387.88 41.63L388.89 41.40L389.90 41.18L390.92 40.96L391.94 40.74L392.97 40.52L394.01 40.30L395.06 40.08L396.11 39.87L397.17 39.65L398.24 39.44L399.31 39.23L400.39 39.01L401.48 38.80L402.58 38.60L403.68 38.39L404.79 38.18L405.90 37.98L407.03 37.77L408.16 37.57L409.29 37.36L410.44 37.16L411.59 36.96L412.75 36.76L413.91 36.56L415.09 36.36L416.27 36.16L417.45 35.97L418.65 35.77L419.85 35.57L421.06 35.38L422.28 35.18L423.51 34.99L424.74 34.79L425.98 34.60L427.23 34.40L428.48 34.21L429.74 34.02L431.01 33.82L432.29 33.63L433.58 33.44L434.87 33.25L436.17 33.05L437.48 32.86L438.80 32.67L440.12 32.48L441.46 32.29L442.80 32.09L444.14 31.90L445.50 31.71" stroke="#f37b3a" stroke-opacity="1.00" stroke-width="2.40"/>
<path d="M282.50 159.30L282.64 158.30L282.73 157.27L282.81 156.21L282.89 155.17L282.98 154.09L283.06 153.03L283.15 152.03L283.23 150.93L283.33 149.75L283.42 148.68L283.51 147.55L283.61 146.35L283.70 145.35L283.79 144.30L283.88 143.21L283.98 142.08L284.08 140.92L284.19 139.72L284.31 138.48L284.43 137.21L284.55 135.90L284.65 134.90L284.75 133.89L284.85 132.85L284.96 131.81L285.07 130.74L285.18 129.66L285.30 128.57L285.42 127.47L285.54 126.35L285.67 125.23L285.80 124.09L285.94 122.95L286.07 121.80L286.22 120.64L286.36 119.48L286.51 118.32L286.67 117.15L286.83 115.99L286.99 114.82L287.16 113.66L287.33 112.49L287.50 111.33L287.69 110.18L287.87 109.03L288.06 107.88L288.25 106.74L288.45 105.61L288.66 104.48L288.86 103.37L289.08 102.26L289.30 101.16L289.52 100.07L289.75 98.99L289.98 97.91L290.22 96.85L290.46 95.80L290.71 94.76L290.97 93.73L291.23 92.71L291.49 91.70L291.76 90.70L292.04 89.71L292.32 88.73L292.61 87.76L292.91 86.80L293.31 85.54L293.72 84.29L294.14 83.06L294.58 81.85L295.02 80.66L295.48 79.48L295.95 78.32L296.43 77.18L296.92 76.06L297.42 74.96L297.94 73.88L298.47 72.82L299.01 71.77L299.57 70.75L300.13 69.75L300.71 68.77L301.31 67.81L301.91 66.87L302.53 65.95L303.17 65.05L303.81 64.17L304.48 63.30L305.15 62.46L305.84 61.63L306.55 60.82L307.27 60.03L308.00 59.25L308.75 58.49L309.52 57.74L310.30 57.01L311.10 56.29L311.91 55.58L312.74 54.89L313.58 54.21L314.44 53.54L315.32 52.88L316.21 52.23L317.12 51.58L318.05 50.95L319.00 50.33L319.96 49.71L320.94 49.10L321.94 48.49L322.96 47.89L323.99 47.30L325.04 46.71L326.12 46.12L327.21 45.55L328.31 44.97L329.44 44.41L330.59 43.85L331.76 43.30L332.95 42.75L334.15 42.21L335.07 41.82L336.00 41.42L336.94 41.04L337.89 40.66L338.86 40.28L339.83 39.91L340.82 39.54L341.82 39.18L342.83 38.83L343.86 38.49L344.89 38.15L345.94 37.81L347.00 37.49L348.07 37.17L349.16 36.85L350.25 36.55L351.36 36.25L352.48 35.95L353.62 35.67L354.77 35.39L355.93 35.12L357.10 34.85L358.29 34.60L359.49 34.34L360.70 34.10L361.93 33.86L363.17 33.63L364.42 33.40L365.69 33.18L366.97 32.97L368.27 32.76L369.57 32.56L370.90 32.36L372.23 32.17L373.58 31.99L374.95 31.81L376.33 31.64L377.72 31.47L379.13 31.30L380.55 31.14L381.99 30.99L383.44 30.84L384.90 30.70L386.38 30.56L387.88 30.42L388.89 30.33L389.90 30.25L390.92 30.16L391.94 30.08L392.97 30.00L394.01 29.92L395.06 29.85L396.11 29.77L397.17 29.70L398.24 29.62L399.31 29.55L400.39 29.48L401.48 29.42L402.58 29.35L403.68 29.28L404.79 29.22L405.90 29.16L407.03 29.10L408.16 29.04L409.29 28.98L410.44 28.92L411.59 28.86L412.75 28.81L413.91 28.75L415.09 28.70L416.27 28.65L417.45 28.60L418.65 28.55L419.85 28.50L421.06 28.45L422.28 28.40L423.51 28.35L424.74 28.31L425.98 28.26L427.23 28.21L428.48 28.17L429.74 28.13L431.01 28.08L432.29 28.04L433.58 28.00L434.87 27.96L436.17 27.91L437.48 27.87L438.80 27.83L440.12 27.79L441.46 27.75L442.80 27.71L444.14 27.67L445.50 27.63" stroke="#000" stroke-width="2.10"/>
<path d="M282.50 159.30L282.52 158.28L282.58 157.27L282.67 156.25L282.78 155.20L282.89 154.16L283.01 153.14L283.15 152.09L283.28 151.04L283.42 150.03L283.57 148.93L283.72 147.91L283.88 146.82L284.06 145.68L284.22 144.64L284.40 143.57L284.58 142.45L284.78 141.28L284.96 140.28L285.14 139.25L285.34 138.18L285.54 137.09L285.76 135.98L285.98 134.83L286.22 133.66L286.46 132.46L286.72 131.23L286.94 130.24L287.16 129.22L287.39 128.19L287.62 127.15L287.87 126.09L288.12 125.02L288.39 123.93L288.66 122.83L288.93 121.71L289.22 120.59L289.52 119.45L289.82 118.31L290.14 117.16L290.46 116.00L290.80 114.83L291.14 113.67L291.49 112.49L291.85 111.32L292.23 110.15L292.61 108.98L293.00 107.82L293.41 106.65L293.82 105.50L294.25 104.35L294.69 103.21L295.14 102.08L295.60 100.95L296.07 99.84L296.55 98.73L297.05 97.63L297.55 96.55L298.07 95.48L298.60 94.42L299.15 93.37L299.71 92.33L300.28 91.31L300.86 90.30L301.46 89.30L302.07 88.31L302.69 87.33L303.33 86.37L303.98 85.41L304.64 84.47L305.32 83.54L306.02 82.62L306.73 81.71L307.45 80.81L308.19 79.93L308.94 79.06L309.71 78.20L310.50 77.35L311.30 76.52L312.11 75.69L312.95 74.88L313.79 74.08L314.66 73.29L315.54 72.51L316.44 71.75L317.35 70.99L318.29 70.24L319.24 69.50L320.20 68.77L321.19 68.05L322.19 67.34L323.21 66.63L324.25 65.94L325.31 65.24L326.39 64.56L327.48 63.88L328.60 63.20L329.73 62.53L330.88 61.87L331.76 61.38L332.65 60.89L333.55 60.40L334.46 59.92L335.38 59.43L336.31 58.96L337.26 58.48L338.21 58.01L339.18 57.54L340.16 57.08L341.15 56.62L342.16 56.16L343.17 55.71L344.20 55.26L345.24 54.81L346.29 54.37L347.35 53.93L348.43 53.49L349.52 53.06L350.62 52.63L351.74 52.20L352.86 51.78L354.00 51.35L355.15 50.94L356.32 50.52L357.50 50.11L358.69 49.70L359.89 49.30L361.11 48.90L362.34 48.50L363.59 48.10L364.84 47.71L366.12 47.32L367.40 46.93L368.70 46.55L370.01 46.17L371.34 45.79L372.68 45.42L374.04 45.05L375.41 44.68L376.79 44.32L378.19 43.96L379.60 43.60L381.03 43.24L382.47 42.89L383.92 42.54L384.90 42.31L385.89 42.08L386.88 41.86L387.88 41.63L388.89 41.40L389.90 41.18L390.92 40.96L391.94 40.74L392.97 40.52L394.01 40.30L395.06 40.08L396.11 39.87L397.17 39.65L398.24 39.44L399.31 39.23L400.39 39.01L401.48 38.80L402.58 38.60L403.68 38.39L404.79 38.18L405.90 37.98L407.03 37.77L408.16 37.57L409.29 37.36L410.44 37.16L411.59 36.96L412.75 36.76L413.91 36.56L415.09 36.36L416.27 36.16L417.45 35.97L418.65 35.77L419.85 35.57L421.06 35.38L422.28 35.18L423.51 34.99L424.74 34.79L425.98 34.60L427.23 34.40L428.48 34.21L429.74 34.02L431.01 33.82L432.29 33.63L433.58 33.44L434.87 33.25L436.17 33.05L437.48 32.86L438.80 32.67L440.12 32.48L441.46 32.29L442.80 32.09L444.14 31.90L445.50 31.71" stroke="#000" stroke-width="2.10" stroke-dasharray="4 4"/>
</g>
<rect x="282.50" y="27.50" width="163.00" height="131.80" fill="none" stroke="#858585" stroke-width="1"/>
<text x="278.20" y="163.60" font-size="13.80" text-anchor="end">0</text>
<text x="278.20" y="137.24" font-size="13.80" text-anchor="end">0.2</text>
<text x="278.20" y="110.88" font-size="13.80" text-anchor="end">0.4</text>
<text x="278.20" y="84.52" font-size="13.80" text-anchor="end">0.6</text>
<text x="278.20" y="58.16" font-size="13.80" text-anchor="end">0.8</text>
<text x="278.20" y="31.80" font-size="13.80" text-anchor="end">1</text>
<text x="282.50" y="172.90" font-size="13.80" text-anchor="middle">0</text>
<text x="336.83" y="172.90" font-size="13.80" text-anchor="middle">10</text>
<text x="391.17" y="172.90" font-size="13.80" text-anchor="middle">20</text>
<text x="445.50" y="172.90" font-size="13.80" text-anchor="middle">30</text>
<text x="364.00" y="192.80" font-size="13.80" text-anchor="middle" textLength="75.3" lengthAdjust="spacing">NO [<tspan font-style="italic">μ</tspan>m/m<tspan font-size="9.6" dy="-5.2">3</tspan><tspan dy="5.2">]</tspan></text>
<text transform="translate(248.90 93.40) rotate(-90)" font-size="13.80" text-anchor="middle" textLength="59" lengthAdjust="spacing">cum. freq.</text>
<text x="364.00" y="11.30" font-size="13.80" text-anchor="middle">(b)</text>
<clipPath id="clipc"><rect x="519.00" y="26.00" width="166.00" height="134.80"/></clipPath>
<path d="M520.50 159.30v-5.60M520.50 27.50v5.60M532.57 159.30v-3.70M532.57 27.50v3.70M544.65 159.30v-3.70M544.65 27.50v3.70M556.72 159.30v-5.60M556.72 27.50v5.60M568.80 159.30v-3.70M568.80 27.50v3.70M580.87 159.30v-3.70M580.87 27.50v3.70M592.94 159.30v-5.60M592.94 27.50v5.60M605.02 159.30v-3.70M605.02 27.50v3.70M617.09 159.30v-3.70M617.09 27.50v3.70M629.17 159.30v-5.60M629.17 27.50v5.60M641.24 159.30v-3.70M641.24 27.50v3.70M653.31 159.30v-3.70M653.31 27.50v3.70M665.39 159.30v-5.60M665.39 27.50v5.60M677.46 159.30v-3.70M677.46 27.50v3.70M689.54 159.30v-3.70M689.54 27.50v3.70M520.50 159.30h5.60M683.50 159.30h-5.60M520.50 150.51h3.70M683.50 150.51h-3.70M520.50 141.73h3.70M683.50 141.73h-3.70M520.50 132.94h5.60M683.50 132.94h-5.60M520.50 124.15h3.70M683.50 124.15h-3.70M520.50 115.37h3.70M683.50 115.37h-3.70M520.50 106.58h5.60M683.50 106.58h-5.60M520.50 97.79h3.70M683.50 97.79h-3.70M520.50 89.01h3.70M683.50 89.01h-3.70M520.50 80.22h5.60M683.50 80.22h-5.60M520.50 71.43h3.70M683.50 71.43h-3.70M520.50 62.65h3.70M683.50 62.65h-3.70M520.50 53.86h5.60M683.50 53.86h-5.60M520.50 45.07h3.70M683.50 45.07h-3.70M520.50 36.29h3.70M683.50 36.29h-3.70M520.50 27.50h5.60M683.50 27.50h-5.60" stroke="#a4a4a4" stroke-width="0.8" fill="none"/>
<g clip-path="url(#clipc)" fill="none" stroke-linejoin="round" stroke-linecap="butt">
<path d="M520.50 159.30L521.52 159.29L522.54 159.29L523.56 159.28L524.58 159.27L525.60 159.26L526.62 159.24L527.64 159.23L528.66 159.21L529.68 159.18L530.70 159.15L531.72 159.12L532.74 159.08L533.76 159.04L534.78 158.99L535.80 158.94L536.82 158.87L537.84 158.80L538.86 158.73L539.88 158.64L540.90 158.54L541.92 158.44L542.94 158.33L543.96 158.21L544.98 158.07L546.00 157.93L547.02 157.78L548.04 157.63L549.06 157.46L550.08 157.28L551.10 157.09L552.12 156.89L553.14 156.67L554.16 156.45L555.18 156.22L556.20 155.98L557.22 155.72L558.24 155.45L559.26 155.18L560.28 154.89L561.30 154.58L562.32 154.27L563.34 153.94L564.36 153.60L565.38 153.24L566.40 152.87L567.42 152.49L568.44 152.09L569.46 151.68L570.48 151.25L571.50 150.80L572.52 150.34L573.54 149.86L574.56 149.37L575.58 148.85L576.60 148.32L577.62 147.77L578.64 147.20L579.66 146.61L580.68 146.00L581.70 145.37L582.72 144.72L583.74 144.04L584.76 143.33L585.58 142.74L586.39 142.13L587.21 141.50L588.03 140.85L588.84 140.17L589.66 139.47L590.47 138.74L591.29 137.98L592.11 137.20L592.92 136.39L593.74 135.55L594.55 134.68L595.37 133.78L596.19 132.85L597.00 131.88L597.82 130.89L598.63 129.86L599.25 129.06L599.86 128.25L600.47 127.41L601.08 126.56L601.69 125.70L602.31 124.82L602.92 123.92L603.53 123.02L604.14 122.10L604.75 121.17L605.37 120.24L605.98 119.29L606.59 118.34L607.20 117.38L607.81 116.41L608.43 115.43L609.04 114.45L609.65 113.45L610.26 112.45L610.87 111.44L611.49 110.42L612.10 109.39L612.71 108.35L613.32 107.31L613.93 106.26L614.55 105.20L615.16 104.13L615.77 103.05L616.38 101.96L616.99 100.87L617.61 99.77L618.22 98.66L618.83 97.54L619.44 96.42L620.05 95.29L620.67 94.15L621.28 93.00L621.89 91.85L622.50 90.69L623.11 89.52L623.73 88.35L624.34 87.18L624.95 85.99L625.56 84.81L626.17 83.61L626.79 82.42L627.40 81.21L628.01 80.01L628.62 78.80L629.23 77.59L629.85 76.37L630.46 75.15L631.07 73.92L631.68 72.70L632.29 71.47L632.91 70.25L633.52 69.03L634.13 67.82L634.74 66.62L635.35 65.43L635.97 64.25L636.58 63.09L637.19 61.95L637.80 60.83L638.41 59.73L639.03 58.64L639.64 57.58L640.25 56.54L640.86 55.52L641.47 54.53L642.09 53.55L642.70 52.61L643.31 51.68L643.92 50.78L644.54 49.91L645.15 49.06L645.76 48.23L646.37 47.43L647.19 46.40L648.00 45.41L648.82 44.45L649.64 43.54L650.45 42.66L651.27 41.83L652.08 41.02L652.90 40.25L653.72 39.52L654.53 38.82L655.35 38.14L656.16 37.50L656.98 36.89L657.80 36.31L658.82 35.62L659.84 34.98L660.86 34.38L661.88 33.82L662.90 33.30L663.92 32.83L664.94 32.38L665.96 31.98L666.98 31.61L668.00 31.28L669.02 30.97L670.04 30.70L671.06 30.45L672.08 30.22L673.10 30.02L674.12 29.84L675.14 29.68L676.16 29.54L677.18 29.41L678.20 29.30L679.22 29.19L680.24 29.09L681.26 29.00L682.28 28.92L683.30 28.83L683.50 28.82" stroke="#7f93d6" stroke-opacity="0.90" stroke-width="2.20"/>
<path d="M520.50 159.30L521.52 159.29L522.54 159.28L523.56 159.28L524.58 159.27L525.60 159.26L526.62 159.24L527.64 159.23L528.66 159.21L529.68 159.19L530.70 159.17L531.72 159.14L532.74 159.11L533.76 159.07L534.78 159.03L535.80 158.98L536.82 158.93L537.84 158.88L538.86 158.81L539.88 158.74L540.90 158.67L541.92 158.58L542.94 158.49L543.96 158.40L544.98 158.29L546.00 158.18L547.02 158.06L548.04 157.94L549.06 157.80L550.08 157.66L551.10 157.51L552.12 157.35L553.14 157.19L554.16 157.01L555.18 156.83L556.20 156.64L557.22 156.43L558.24 156.23L559.26 156.01L560.28 155.78L561.30 155.54L562.32 155.29L563.34 155.03L564.36 154.76L565.38 154.48L566.40 154.19L567.42 153.88L568.44 153.56L569.46 153.22L570.48 152.87L571.50 152.50L572.52 152.12L573.54 151.72L574.56 151.31L575.58 150.87L576.60 150.42L577.62 149.96L578.64 149.47L579.66 148.97L580.68 148.44L581.70 147.90L582.72 147.33L583.74 146.74L584.76 146.12L585.78 145.47L586.80 144.79L587.82 144.07L588.64 143.48L589.45 142.85L590.27 142.20L591.09 141.53L591.90 140.83L592.72 140.09L593.53 139.34L594.35 138.55L595.17 137.73L595.98 136.87L596.80 135.99L597.61 135.07L598.43 134.12L599.25 133.14L600.06 132.12L600.88 131.06L601.49 130.25L602.10 129.42L602.71 128.58L603.33 127.72L603.94 126.85L604.55 125.96L605.16 125.07L605.77 124.16L606.39 123.24L607.00 122.31L607.61 121.37L608.22 120.42L608.83 119.46L609.45 118.49L610.06 117.52L610.67 116.53L611.28 115.54L611.89 114.54L612.51 113.53L613.12 112.52L613.73 111.49L614.34 110.46L614.95 109.42L615.57 108.37L616.18 107.31L616.79 106.25L617.40 105.18L618.01 104.10L618.63 103.01L619.24 101.92L619.85 100.82L620.46 99.71L621.07 98.59L621.69 97.47L622.30 96.35L622.91 95.21L623.52 94.07L624.13 92.93L624.75 91.78L625.36 90.62L625.97 89.45L626.58 88.28L627.19 87.10L627.81 85.92L628.42 84.73L629.03 83.53L629.64 82.32L630.25 81.11L630.87 79.89L631.48 78.66L632.09 77.42L632.70 76.18L633.31 74.93L633.93 73.68L634.54 72.43L635.15 71.17L635.76 69.91L636.37 68.65L636.99 67.39L637.60 66.14L638.21 64.90L638.82 63.67L639.43 62.45L640.05 61.26L640.66 60.10L641.27 58.96L641.88 57.85L642.49 56.76L643.11 55.71L643.72 54.68L644.33 53.69L644.94 52.72L645.56 51.78L646.17 50.87L646.78 49.99L647.39 49.14L648.00 48.32L648.62 47.52L649.43 46.51L650.25 45.54L651.06 44.62L651.88 43.74L652.70 42.90L653.51 42.11L654.33 41.35L655.14 40.62L655.96 39.94L656.78 39.28L657.59 38.65L658.41 38.06L659.43 37.35L660.45 36.68L661.47 36.05L662.49 35.45L663.51 34.88L664.53 34.35L665.55 33.85L666.57 33.38L667.59 32.94L668.61 32.53L669.63 32.16L670.65 31.81L671.67 31.49L672.69 31.20L673.71 30.93L674.73 30.69L675.75 30.47L676.77 30.28L677.79 30.10L678.81 29.94L679.83 29.79L680.85 29.65L681.87 29.52L682.89 29.40L683.50 29.32" stroke="#a9d89a" stroke-opacity="0.90" stroke-width="2.00"/>
<path d="M520.50 159.30L521.52 159.28L522.54 159.25L523.56 159.23L524.58 159.20L525.60 159.18L526.62 159.15L527.64 159.13L528.66 159.10L529.68 159.07L530.70 159.05L531.72 159.02L532.74 158.99L533.76 158.96L534.78 158.92L535.80 158.89L536.82 158.85L537.84 158.82L538.86 158.78L539.88 158.74L540.90 158.70L541.92 158.66L542.94 158.61L543.96 158.56L544.98 158.51L546.00 158.46L547.02 158.41L548.04 158.35L549.06 158.30L550.08 158.23L551.10 158.17L552.12 158.10L553.14 158.03L554.16 157.96L555.18 157.89L556.20 157.81L557.22 157.73L558.24 157.64L559.26 157.55L560.28 157.46L561.30 157.36L562.32 157.26L563.34 157.15L564.36 157.04L565.38 156.92L566.40 156.79L567.42 156.66L568.44 156.52L569.46 156.37L570.48 156.22L571.50 156.05L572.52 155.88L573.54 155.70L574.56 155.51L575.58 155.31L576.60 155.10L577.62 154.88L578.64 154.64L579.66 154.40L580.68 154.14L581.70 153.87L582.72 153.58L583.74 153.27L584.76 152.94L585.78 152.59L586.80 152.20L587.82 151.79L588.84 151.34L589.86 150.85L590.88 150.32L591.90 149.76L592.92 149.15L593.94 148.49L594.96 147.78L595.78 147.18L596.59 146.54L597.41 145.86L598.23 145.15L599.04 144.40L599.86 143.61L600.67 142.77L601.49 141.90L602.31 140.99L603.12 140.05L603.94 139.07L604.75 138.06L605.57 137.01L606.18 136.20L606.79 135.38L607.41 134.55L608.02 133.69L608.63 132.82L609.24 131.94L609.85 131.04L610.47 130.13L611.08 129.21L611.69 128.27L612.30 127.32L612.91 126.36L613.53 125.39L614.14 124.41L614.75 123.41L615.36 122.41L615.97 121.40L616.59 120.38L617.20 119.36L617.81 118.32L618.42 117.28L619.03 116.23L619.65 115.17L620.26 114.10L620.87 113.03L621.48 111.95L622.09 110.87L622.71 109.78L623.32 108.69L623.93 107.59L624.54 106.48L625.15 105.37L625.77 104.26L626.38 103.15L626.99 102.03L627.60 100.90L628.21 99.78L628.83 98.65L629.44 97.52L630.05 96.39L630.66 95.26L631.27 94.13L631.89 92.99L632.50 91.86L633.11 90.72L633.72 89.58L634.33 88.45L634.95 87.31L635.56 86.17L636.17 85.03L636.78 83.89L637.39 82.76L638.01 81.62L638.62 80.49L639.23 79.35L639.84 78.22L640.45 77.09L641.07 75.96L641.68 74.83L642.29 73.71L642.90 72.59L643.52 71.47L644.13 70.35L644.74 69.24L645.35 68.14L645.96 67.04L646.58 65.95L647.19 64.87L647.80 63.80L648.41 62.73L649.02 61.68L649.64 60.64L650.25 59.61L650.86 58.59L651.47 57.58L652.08 56.59L652.70 55.61L653.31 54.65L653.92 53.70L654.53 52.77L655.14 51.86L655.76 50.96L656.37 50.08L656.98 49.22L657.59 48.38L658.20 47.56L658.82 46.75L659.63 45.71L660.45 44.70L661.26 43.73L662.08 42.79L662.90 41.89L663.71 41.03L664.53 40.21L665.34 39.43L666.16 38.68L666.98 37.97L667.79 37.30L668.61 36.66L669.42 36.06L670.44 35.36L671.46 34.71L672.48 34.11L673.50 33.56L674.52 33.05L675.54 32.59L676.56 32.16L677.58 31.77L678.60 31.40L679.62 31.05L680.64 30.73L681.66 30.41L682.68 30.11L683.50 29.86" stroke="#f9a66c" stroke-opacity="0.90" stroke-width="2.00"/>
<path d="M520.50 159.30L521.52 159.27L522.54 159.25L523.56 159.22L524.58 159.19L525.60 159.16L526.62 159.14L527.64 159.11L528.66 159.08L529.68 159.05L530.70 159.01L531.72 158.98L532.74 158.95L533.76 158.91L534.78 158.88L535.80 158.84L536.82 158.80L537.84 158.76L538.86 158.72L539.88 158.67L540.90 158.63L541.92 158.58L542.94 158.53L543.96 158.48L544.98 158.42L546.00 158.37L547.02 158.31L548.04 158.24L549.06 158.18L550.08 158.11L551.10 158.04L552.12 157.97L553.14 157.89L554.16 157.81L555.18 157.73L556.20 157.64L557.22 157.55L558.24 157.46L559.26 157.36L560.28 157.25L561.30 157.14L562.32 157.03L563.34 156.91L564.36 156.78L565.38 156.64L566.40 156.50L567.42 156.35L568.44 156.19L569.46 156.02L570.48 155.83L571.50 155.64L572.52 155.44L573.54 155.22L574.56 155.00L575.58 154.76L576.60 154.50L577.62 154.24L578.64 153.96L579.66 153.66L580.68 153.35L581.70 153.02L582.72 152.67L583.74 152.29L584.76 151.89L585.78 151.47L586.80 151.01L587.82 150.52L588.84 150.00L589.86 149.44L590.88 148.83L591.90 148.19L592.92 147.50L593.74 146.92L594.55 146.30L595.37 145.65L596.19 144.97L597.00 144.25L597.82 143.50L598.63 142.71L599.45 141.88L600.27 141.01L601.08 140.11L601.90 139.16L602.71 138.18L603.53 137.17L604.35 136.13L604.96 135.32L605.57 134.50L606.18 133.67L606.79 132.82L607.41 131.95L608.02 131.07L608.63 130.17L609.24 129.27L609.85 128.35L610.47 127.41L611.08 126.47L611.69 125.52L612.30 124.55L612.91 123.58L613.53 122.60L614.14 121.60L614.75 120.60L615.36 119.59L615.97 118.57L616.59 117.54L617.20 116.51L617.81 115.47L618.42 114.42L619.03 113.36L619.65 112.30L620.26 111.22L620.87 110.15L621.48 109.06L622.09 107.98L622.71 106.88L623.32 105.78L623.93 104.68L624.54 103.57L625.15 102.45L625.77 101.34L626.38 100.21L626.99 99.09L627.60 97.96L628.21 96.83L628.83 95.70L629.44 94.56L630.05 93.42L630.66 92.28L631.27 91.14L631.89 90.00L632.50 88.85L633.11 87.71L633.72 86.56L634.33 85.42L634.95 84.27L635.56 83.13L636.17 81.99L636.78 80.84L637.39 79.70L638.01 78.56L638.62 77.42L639.23 76.29L639.84 75.15L640.45 74.02L641.07 72.90L641.68 71.77L642.29 70.65L642.90 69.54L643.52 68.43L644.13 67.33L644.74 66.24L645.35 65.15L645.96 64.07L646.58 63.01L647.19 61.95L647.80 60.90L648.41 59.87L649.02 58.84L649.64 57.83L650.25 56.84L650.86 55.86L651.47 54.89L652.08 53.94L652.70 53.01L653.31 52.09L653.92 51.20L654.53 50.32L655.14 49.46L655.76 48.61L656.37 47.79L656.98 46.98L657.80 45.94L658.61 44.93L659.43 43.96L660.24 43.02L661.06 42.12L661.88 41.25L662.69 40.43L663.51 39.64L664.32 38.89L665.14 38.17L665.96 37.50L666.77 36.86L667.59 36.25L668.61 35.54L669.63 34.88L670.65 34.27L671.67 33.71L672.69 33.20L673.71 32.73L674.73 32.30L675.75 31.90L676.77 31.54L677.79 31.21L678.81 30.90L679.83 30.61L680.85 30.34L681.87 30.08L682.89 29.82L683.50 29.67" stroke="#a29de0" stroke-opacity="0.60" stroke-width="1.40"/>
<path d="M520.50 159.30L521.52 159.27L522.54 159.24L523.56 159.21L524.58 159.18L525.60 159.15L526.62 159.12L527.64 159.09L528.66 159.05L529.68 159.02L530.70 158.98L531.72 158.95L532.74 158.91L533.76 158.87L534.78 158.83L535.80 158.79L536.82 158.75L537.84 158.70L538.86 158.66L539.88 158.61L540.90 158.56L541.92 158.50L542.94 158.45L543.96 158.39L544.98 158.33L546.00 158.27L547.02 158.20L548.04 158.13L549.06 158.06L550.08 157.99L551.10 157.91L552.12 157.83L553.14 157.75L554.16 157.66L555.18 157.57L556.20 157.47L557.22 157.37L558.24 157.27L559.26 157.16L560.28 157.05L561.30 156.93L562.32 156.80L563.34 156.66L564.36 156.52L565.38 156.37L566.40 156.21L567.42 156.03L568.44 155.85L569.46 155.66L570.48 155.45L571.50 155.23L572.52 155.00L573.54 154.75L574.56 154.48L575.58 154.21L576.60 153.91L577.62 153.60L578.64 153.27L579.66 152.92L580.68 152.55L581.70 152.16L582.72 151.75L583.74 151.31L584.76 150.84L585.78 150.35L586.80 149.82L587.82 149.26L588.84 148.66L589.86 148.02L590.88 147.34L591.90 146.62L592.72 146.01L593.53 145.38L594.35 144.71L595.17 144.00L595.98 143.27L596.80 142.50L597.61 141.70L598.43 140.86L599.25 139.98L600.06 139.06L600.88 138.11L601.69 137.12L602.51 136.10L603.33 135.05L603.94 134.24L604.55 133.41L605.16 132.57L605.77 131.71L606.39 130.84L607.00 129.95L607.61 129.05L608.22 128.14L608.83 127.21L609.45 126.28L610.06 125.33L610.67 124.38L611.28 123.42L611.89 122.44L612.51 121.46L613.12 120.47L613.73 119.47L614.34 118.46L614.95 117.45L615.57 116.43L616.18 115.40L616.79 114.36L617.40 113.31L618.01 112.26L618.63 111.20L619.24 110.14L619.85 109.06L620.46 107.99L621.07 106.90L621.69 105.81L622.30 104.72L622.91 103.62L623.52 102.51L624.13 101.40L624.75 100.28L625.36 99.16L625.97 98.04L626.58 96.91L627.19 95.77L627.81 94.64L628.42 93.50L629.03 92.36L629.64 91.21L630.25 90.06L630.87 88.92L631.48 87.77L632.09 86.62L632.70 85.46L633.31 84.31L633.93 83.16L634.54 82.01L635.15 80.86L635.76 79.71L636.37 78.56L636.99 77.41L637.60 76.26L638.21 75.12L638.82 73.98L639.43 72.84L640.05 71.71L640.66 70.58L641.27 69.46L641.88 68.34L642.49 67.23L643.11 66.13L643.72 65.03L644.33 63.95L644.94 62.87L645.56 61.81L646.17 60.75L646.78 59.71L647.39 58.68L648.00 57.67L648.62 56.67L649.23 55.68L649.84 54.71L650.45 53.76L651.06 52.82L651.68 51.90L652.29 51.00L652.90 50.12L653.51 49.26L654.12 48.41L654.74 47.59L655.35 46.79L656.16 45.75L656.98 44.74L657.80 43.77L658.61 42.84L659.43 41.95L660.24 41.09L661.06 40.27L661.88 39.49L662.69 38.74L663.51 38.03L664.32 37.36L665.14 36.73L665.96 36.13L666.98 35.43L668.00 34.78L669.02 34.18L670.04 33.63L671.06 33.12L672.08 32.66L673.10 32.24L674.12 31.85L675.14 31.50L676.16 31.19L677.18 30.89L678.20 30.63L679.22 30.38L680.24 30.15L681.26 29.93L682.28 29.72L683.30 29.51L683.50 29.47" stroke="#f08a6e" stroke-opacity="0.90" stroke-width="2.20"/>
<path d="M520.50 159.30L521.52 159.30L522.54 159.30L523.56 159.30L524.58 159.30L525.60 159.30L526.62 159.30L527.64 159.30L528.66 159.30L529.68 159.30L530.70 159.30L531.72 159.30L532.74 159.30L533.76 159.30L534.78 159.30L535.80 159.30L536.82 159.30L537.84 159.30L538.86 159.29L539.88 159.29L540.90 159.29L541.92 159.28L542.94 159.28L543.96 159.27L544.98 159.27L546.00 159.26L547.02 159.25L548.04 159.24L549.06 159.23L550.08 159.23L551.10 159.21L552.12 159.20L553.14 159.19L554.16 159.18L555.18 159.17L556.20 159.15L557.22 159.13L558.24 159.12L559.26 159.10L560.28 159.08L561.30 159.06L562.32 159.04L563.34 159.02L564.36 159.00L565.38 158.97L566.40 158.95L567.42 158.92L568.44 158.89L569.46 158.86L570.48 158.83L571.50 158.80L572.52 158.76L573.54 158.71L574.56 158.67L575.58 158.62L576.60 158.56L577.62 158.50L578.64 158.43L579.66 158.36L580.68 158.28L581.70 158.19L582.72 158.10L583.74 157.99L584.76 157.86L585.78 157.72L586.80 157.57L587.82 157.39L588.84 157.19L589.86 156.97L590.88 156.73L591.90 156.45L592.92 156.15L593.94 155.80L594.96 155.42L595.98 155.00L597.00 154.53L598.02 154.01L599.04 153.44L600.06 152.82L601.08 152.13L601.90 151.54L602.71 150.91L603.53 150.23L604.35 149.51L605.16 148.75L605.98 147.94L606.79 147.08L607.61 146.17L608.43 145.21L609.24 144.20L610.06 143.14L610.67 142.32L611.28 141.47L611.89 140.60L612.51 139.70L613.12 138.77L613.73 137.82L614.34 136.85L614.95 135.86L615.57 134.84L616.18 133.80L616.79 132.74L617.40 131.66L618.01 130.56L618.63 129.44L619.24 128.30L619.85 127.14L620.46 125.97L621.07 124.77L621.69 123.56L622.30 122.34L622.91 121.10L623.52 119.84L624.13 118.57L624.75 117.29L625.36 116.00L625.97 114.70L626.58 113.38L627.19 112.07L627.81 110.74L628.42 109.41L629.03 108.07L629.64 106.73L630.25 105.39L630.87 104.05L631.48 102.71L632.09 101.36L632.70 100.02L633.31 98.68L633.93 97.35L634.54 96.02L635.15 94.69L635.76 93.37L636.37 92.04L636.99 90.73L637.60 89.42L638.21 88.11L638.82 86.81L639.43 85.51L640.05 84.22L640.66 82.94L641.27 81.66L641.88 80.39L642.49 79.12L643.11 77.87L643.72 76.61L644.33 75.37L644.94 74.14L645.56 72.91L646.17 71.69L646.78 70.48L647.39 69.28L648.00 68.09L648.62 66.91L649.23 65.73L649.84 64.57L650.45 63.42L651.06 62.28L651.68 61.15L652.29 60.04L652.90 58.93L653.51 57.84L654.12 56.77L654.74 55.71L655.35 54.67L655.96 53.64L656.57 52.63L657.18 51.64L657.80 50.67L658.41 49.72L659.02 48.79L659.63 47.88L660.24 46.99L660.86 46.12L661.47 45.28L662.08 44.46L662.69 43.66L663.51 42.63L664.32 41.64L665.14 40.70L665.96 39.80L666.77 38.95L667.59 38.14L668.40 37.38L669.22 36.67L670.04 36.00L670.85 35.37L671.67 34.79L672.69 34.13L673.71 33.52L674.73 32.99L675.75 32.51L676.77 32.09L677.79 31.71L678.81 31.37L679.83 31.07L680.85 30.79L681.87 30.52L682.89 30.27L683.50 30.12" stroke="#000" stroke-width="2.10"/>
<path d="M520.50 159.30L521.52 159.29L522.54 159.28L523.56 159.27L524.58 159.27L525.60 159.25L526.62 159.24L527.64 159.23L528.66 159.21L529.68 159.19L530.70 159.17L531.72 159.15L532.74 159.12L533.76 159.09L534.78 159.06L535.80 159.02L536.82 158.98L537.84 158.94L538.86 158.88L539.88 158.83L540.90 158.77L541.92 158.70L542.94 158.63L543.96 158.55L544.98 158.47L546.00 158.38L547.02 158.29L548.04 158.19L549.06 158.09L550.08 157.97L551.10 157.86L552.12 157.73L553.14 157.60L554.16 157.47L555.18 157.32L556.20 157.18L557.22 157.02L558.24 156.86L559.26 156.69L560.28 156.51L561.30 156.32L562.32 156.13L563.34 155.93L564.36 155.72L565.38 155.50L566.40 155.26L567.42 155.02L568.44 154.76L569.46 154.49L570.48 154.20L571.50 153.90L572.52 153.58L573.54 153.24L574.56 152.89L575.58 152.53L576.60 152.14L577.62 151.74L578.64 151.33L579.66 150.89L580.68 150.44L581.70 149.97L582.72 149.47L583.74 148.95L584.76 148.41L585.78 147.83L586.80 147.22L587.82 146.58L588.84 145.90L589.86 145.18L590.68 144.58L591.49 143.95L592.31 143.30L593.13 142.61L593.94 141.90L594.76 141.15L595.57 140.38L596.39 139.57L597.21 138.73L598.02 137.85L598.84 136.94L599.65 135.99L600.47 135.01L601.29 134.00L602.10 132.95L602.71 132.14L603.33 131.32L603.94 130.48L604.55 129.63L605.16 128.76L605.77 127.88L606.39 126.99L607.00 126.08L607.61 125.16L608.22 124.23L608.83 123.29L609.45 122.35L610.06 121.39L610.67 120.43L611.28 119.46L611.89 118.47L612.51 117.49L613.12 116.49L613.73 115.48L614.34 114.47L614.95 113.45L615.57 112.42L616.18 111.39L616.79 110.35L617.40 109.30L618.01 108.24L618.63 107.18L619.24 106.11L619.85 105.03L620.46 103.95L621.07 102.86L621.69 101.76L622.30 100.66L622.91 99.55L623.52 98.43L624.13 97.31L624.75 96.18L625.36 95.05L625.97 93.91L626.58 92.76L627.19 91.60L627.81 90.43L628.42 89.25L629.03 88.06L629.64 86.86L630.25 85.65L630.87 84.43L631.48 83.20L632.09 81.96L632.70 80.70L633.31 79.43L633.93 78.15L634.54 76.86L635.15 75.55L635.76 74.22L636.37 72.88L636.99 71.53L637.60 70.18L638.21 68.83L638.82 67.48L639.43 66.15L640.05 64.84L640.66 63.56L641.27 62.31L641.88 61.09L642.49 59.91L643.11 58.75L643.72 57.63L644.33 56.54L644.94 55.48L645.56 54.46L646.17 53.47L646.78 52.51L647.39 51.59L648.00 50.70L648.62 49.84L649.23 49.02L649.84 48.23L650.66 47.22L651.47 46.26L652.29 45.35L653.10 44.49L653.92 43.67L654.74 42.89L655.55 42.15L656.37 41.45L657.18 40.78L658.00 40.14L658.82 39.52L659.63 38.93L660.65 38.23L661.67 37.55L662.69 36.90L663.71 36.29L664.73 35.69L665.75 35.13L666.77 34.60L667.79 34.10L668.81 33.62L669.83 33.18L670.85 32.76L671.87 32.38L672.89 32.02L673.91 31.70L674.93 31.40L675.95 31.14L676.97 30.90L677.99 30.68L679.01 30.48L680.03 30.30L681.05 30.12L682.07 29.96L683.09 29.80L683.50 29.74" stroke="#000" stroke-width="2.10" stroke-dasharray="4 4"/>
</g>
<rect x="520.50" y="27.50" width="163.00" height="131.80" fill="none" stroke="#858585" stroke-width="1"/>
<text x="516.20" y="163.60" font-size="13.80" text-anchor="end">0</text>
<text x="516.20" y="137.24" font-size="13.80" text-anchor="end">0.2</text>
<text x="516.20" y="110.88" font-size="13.80" text-anchor="end">0.4</text>
<text x="516.20" y="84.52" font-size="13.80" text-anchor="end">0.6</text>
<text x="516.20" y="58.16" font-size="13.80" text-anchor="end">0.8</text>
<text x="516.20" y="31.80" font-size="13.80" text-anchor="end">1</text>
<text x="520.50" y="172.90" font-size="13.80" text-anchor="middle">0</text>
<text x="556.72" y="172.90" font-size="13.80" text-anchor="middle">20</text>
<text x="592.94" y="172.90" font-size="13.80" text-anchor="middle">40</text>
<text x="629.17" y="172.90" font-size="13.80" text-anchor="middle">60</text>
<text x="665.39" y="172.90" font-size="13.80" text-anchor="middle">80</text>
<text x="602.00" y="192.80" font-size="13.80" text-anchor="middle" textLength="70.9" lengthAdjust="spacing">O<tspan font-size="9.6" dy="2.2">3</tspan><tspan dy="-2.2"> </tspan>[<tspan font-style="italic">μ</tspan>m/m<tspan font-size="9.6" dy="-5.2">3</tspan><tspan dy="5.2">]</tspan></text>
<text transform="translate(486.90 93.40) rotate(-90)" font-size="13.80" text-anchor="middle" textLength="59" lengthAdjust="spacing">cum. freq.</text>
<text x="602.00" y="11.30" font-size="13.80" text-anchor="middle">(c)</text>
<clipPath id="clipd"><rect x="155.90" y="235.00" width="166.00" height="135.40"/></clipPath>
<path d="M157.40 368.90v-5.60M157.40 236.50v5.60M168.27 368.90v-3.70M168.27 236.50v3.70M179.13 368.90v-3.70M179.13 236.50v3.70M190.00 368.90v-5.60M190.00 236.50v5.60M200.87 368.90v-3.70M200.87 236.50v3.70M211.73 368.90v-3.70M211.73 236.50v3.70M222.60 368.90v-5.60M222.60 236.50v5.60M233.47 368.90v-3.70M233.47 236.50v3.70M244.33 368.90v-3.70M244.33 236.50v3.70M255.20 368.90v-5.60M255.20 236.50v5.60M266.07 368.90v-3.70M266.07 236.50v3.70M276.93 368.90v-3.70M276.93 236.50v3.70M287.80 368.90v-5.60M287.80 236.50v5.60M298.67 368.90v-3.70M298.67 236.50v3.70M309.53 368.90v-3.70M309.53 236.50v3.70M320.40 368.90v-5.60M320.40 236.50v5.60M157.40 368.90h5.60M320.40 368.90h-5.60M157.40 360.07h3.70M320.40 360.07h-3.70M157.40 351.25h3.70M320.40 351.25h-3.70M157.40 342.42h5.60M320.40 342.42h-5.60M157.40 333.59h3.70M320.40 333.59h-3.70M157.40 324.77h3.70M320.40 324.77h-3.70M157.40 315.94h5.60M320.40 315.94h-5.60M157.40 307.11h3.70M320.40 307.11h-3.70M157.40 298.29h3.70M320.40 298.29h-3.70M157.40 289.46h5.60M320.40 289.46h-5.60M157.40 280.63h3.70M320.40 280.63h-3.70M157.40 271.81h3.70M320.40 271.81h-3.70M157.40 262.98h5.60M320.40 262.98h-5.60M157.40 254.15h3.70M320.40 254.15h-3.70M157.40 245.33h3.70M320.40 245.33h-3.70M157.40 236.50h5.60M320.40 236.50h-5.60" stroke="#a4a4a4" stroke-width="0.8" fill="none"/>
<g clip-path="url(#clipd)" fill="none" stroke-linejoin="round" stroke-linecap="butt">
<path d="M157.40 368.90L158.42 368.90L159.40 368.56L160.22 367.90L160.92 367.15L161.60 366.26L162.17 365.43L162.76 364.45L163.29 363.50L163.84 362.45L164.32 361.49L164.80 360.46L165.30 359.36L165.71 358.43L166.13 357.46L166.56 356.44L166.99 355.38L167.43 354.27L167.88 353.13L168.34 351.94L168.81 350.70L169.16 349.75L169.52 348.78L169.88 347.78L170.25 346.76L170.62 345.71L171.00 344.64L171.38 343.55L171.76 342.44L172.15 341.31L172.54 340.15L172.94 338.98L173.34 337.79L173.74 336.58L174.15 335.35L174.56 334.11L174.98 332.85L175.40 331.58L175.82 330.30L176.26 329.01L176.79 327.74L177.32 326.46L177.86 325.17L178.39 323.87L178.94 322.57L179.49 321.26L180.04 319.94L180.59 318.63L181.15 317.31L181.71 315.99L182.28 314.67L182.85 313.36L183.42 312.04L184.00 310.73L184.58 309.42L185.16 308.12L185.75 306.83L186.34 305.54L186.93 304.27L187.52 303.00L188.11 301.75L188.71 300.51L189.31 299.29L189.91 298.08L190.51 296.88L191.12 295.71L191.72 294.54L192.33 293.40L192.94 292.28L193.55 291.17L194.11 290.07L194.64 288.97L195.18 287.89L195.72 286.83L196.26 285.80L196.81 284.78L197.35 283.79L197.91 282.82L198.46 281.87L199.01 280.94L199.57 280.03L200.13 279.15L200.70 278.28L201.26 277.43L201.83 276.60L202.60 275.53L203.36 274.49L204.13 273.48L204.91 272.50L205.69 271.55L206.48 270.64L207.27 269.75L208.07 268.88L208.87 268.05L209.68 267.24L210.49 266.45L211.31 265.68L212.13 264.94L212.96 264.22L213.79 263.52L214.63 262.84L215.48 262.18L216.33 261.54L217.18 260.92L218.04 260.32L218.91 259.73L219.78 259.16L220.66 258.61L221.54 258.07L222.43 257.55L223.33 257.05L224.23 256.56L225.14 256.08L226.05 255.62L226.97 255.17L227.90 254.73L228.83 254.30L229.77 253.89L230.71 253.49L231.67 253.09L232.62 252.71L233.59 252.34L234.56 251.98L235.54 251.63L236.52 251.28L237.51 250.94L238.51 250.61L239.51 250.29L240.53 249.97L241.54 249.66L242.56 249.36L243.59 249.06L244.62 248.77L245.66 248.48L246.70 248.20L247.75 247.93L248.80 247.66L249.86 247.40L250.93 247.15L251.99 246.90L253.07 246.66L254.15 246.42L255.24 246.19L256.33 245.97L257.42 245.75L258.53 245.54L259.63 245.33L260.75 245.13L261.87 244.93L262.99 244.74L264.12 244.55L265.25 244.37L266.39 244.19L267.54 244.01L268.69 243.84L269.85 243.67L271.01 243.51L272.18 243.35L273.35 243.19L274.53 243.04L275.71 242.89L276.90 242.74L278.09 242.60L279.29 242.46L280.49 242.32L281.70 242.19L282.91 242.06L284.12 241.94L285.35 241.81L286.57 241.69L287.80 241.58L289.04 241.45L290.27 241.17L291.50 240.90L292.74 240.64L293.98 240.39L295.24 240.15L296.49 239.91L297.76 239.68L299.03 239.46L300.30 239.24L301.58 239.03L302.87 238.83L304.16 238.63L305.46 238.44L306.76 238.25L308.07 238.07L309.38 237.89L310.70 237.71L311.69 237.58L312.68 237.45L313.68 237.33L314.68 237.20L315.68 237.07L316.69 236.95L317.70 236.83L318.71 236.70L319.72 236.58L320.40 236.50" stroke="#a29de0" stroke-opacity="0.85" stroke-width="2.00"/>
<path d="M157.40 368.90L158.42 368.90L159.40 368.56L160.22 367.90L160.92 367.15L161.60 366.26L162.17 365.43L162.76 364.45L163.29 363.50L163.84 362.45L164.32 361.49L164.80 360.46L165.30 359.36L165.71 358.43L166.13 357.46L166.56 356.44L166.99 355.38L167.43 354.27L167.88 353.13L168.34 351.94L168.81 350.70L169.16 349.75L169.52 348.78L169.88 347.78L170.25 346.76L170.62 345.71L171.00 344.64L171.38 343.55L171.76 342.44L172.15 341.31L172.54 340.15L172.94 338.98L173.34 337.79L173.74 336.58L174.15 335.35L174.56 334.11L174.98 332.85L175.40 331.58L175.82 330.30L176.25 329.01L176.68 327.70L177.12 326.39L177.56 325.07L178.00 323.74L178.45 322.40L178.90 321.06L179.36 319.72L179.82 318.37L180.28 317.01L180.75 315.66L181.22 314.30L181.69 312.95L182.17 311.60L182.65 310.25L183.14 308.90L183.63 307.56L184.12 306.22L184.62 304.90L185.12 303.58L185.62 302.27L186.13 300.97L186.64 299.68L187.16 298.41L187.68 297.15L188.20 295.90L188.72 294.67L189.25 293.46L189.79 292.26L190.32 291.08L190.86 289.92L191.40 288.77L191.95 287.65L192.50 286.54L193.05 285.46L193.61 284.39L194.17 283.35L194.74 282.33L195.30 281.33L195.87 280.35L196.45 279.39L197.03 278.45L197.61 277.53L198.19 276.63L198.78 275.75L199.37 274.89L199.97 274.05L200.56 273.22L201.16 272.42L201.97 271.37L202.78 270.36L203.60 269.38L204.43 268.43L205.26 267.50L206.09 266.61L206.93 265.74L207.78 264.89L208.63 264.07L209.49 263.28L210.36 262.50L211.23 261.75L212.10 261.03L212.99 260.32L213.87 259.63L214.77 258.97L215.66 258.32L216.57 257.69L217.48 257.08L218.39 256.49L219.31 255.92L220.24 255.36L221.17 254.82L222.11 254.29L223.05 253.79L224.00 253.29L224.95 252.81L225.91 252.35L226.88 251.90L227.85 251.46L228.82 251.03L229.80 250.62L230.79 250.21L231.78 249.82L232.77 249.44L233.78 249.07L234.78 248.71L235.79 248.36L236.81 248.01L237.84 247.68L238.86 247.35L239.90 247.03L240.93 246.71L241.98 246.40L243.03 246.10L244.08 245.80L245.14 245.51L246.20 245.23L247.27 244.95L248.35 244.68L249.43 244.42L250.51 244.16L251.60 243.91L252.70 243.67L253.80 243.43L254.90 243.20L256.01 242.97L257.13 242.75L258.24 242.54L259.37 242.33L260.50 242.13L261.63 241.93L262.77 241.73L263.92 241.54L265.07 241.36L266.22 241.18L267.38 241.00L268.55 240.83L269.72 240.66L270.89 240.50L272.07 240.34L273.25 240.18L274.44 240.02L275.64 239.87L276.84 239.73L278.04 239.58L279.25 239.44L280.46 239.31L281.68 239.18L282.90 239.05L284.13 238.92L285.36 238.80L286.60 238.68L287.84 238.56L289.08 238.45L290.34 238.34L291.59 238.23L292.85 238.13L294.12 238.03L295.39 237.93L296.66 237.84L297.94 237.75L299.23 237.66L300.51 237.57L301.81 237.49L303.11 237.41L304.41 237.33L305.72 237.25L307.03 237.18L308.34 237.11L309.67 237.04L310.99 236.97L312.32 236.90L313.32 236.85L314.33 236.80L315.33 236.75L316.34 236.70L317.35 236.65L318.37 236.60L319.38 236.55L320.40 236.50" stroke="#7f93d6" stroke-opacity="0.85" stroke-width="2.20"/>
<path d="M157.40 368.90L158.42 368.90L159.46 368.73L160.22 368.04L160.85 367.24L161.45 366.33L162.00 365.35L162.50 364.37L162.94 363.46L163.38 362.45L163.84 361.35L164.22 360.42L164.61 359.43L165.00 358.40L165.41 357.33L165.82 356.21L166.24 355.06L166.66 353.86L167.10 352.63L167.43 351.69L167.77 350.72L168.11 349.73L168.46 348.72L168.81 347.69L169.16 346.63L169.52 345.55L169.88 344.45L170.25 343.33L170.62 342.19L171.00 341.02L171.38 339.82L171.76 338.61L172.15 337.37L172.54 336.11L172.94 334.83L173.34 333.53L173.74 332.21L174.15 330.88L174.56 329.52L174.98 328.16L175.40 326.78L175.82 325.38L176.25 323.98L176.68 322.56L177.12 321.13L177.41 320.18L177.71 319.22L178.00 318.25L178.30 317.28L178.60 316.31L178.90 315.34L179.21 314.36L179.51 313.39L179.82 312.41L180.13 311.43L180.44 310.45L180.75 309.47L181.06 308.49L181.38 307.51L181.69 306.53L182.01 305.56L182.33 304.59L182.65 303.62L182.98 302.66L183.30 301.70L183.63 300.75L183.96 299.80L184.45 298.40L184.95 297.01L185.46 295.64L185.96 294.29L186.47 292.96L186.99 291.66L187.50 290.38L188.02 289.12L188.55 287.89L189.08 286.68L189.61 285.49L190.14 284.33L190.68 283.19L191.22 282.07L191.77 280.98L192.32 279.90L192.87 278.85L193.43 277.83L193.99 276.82L194.55 275.84L195.11 274.88L195.68 273.94L196.26 273.03L196.83 272.14L197.41 271.27L198.00 270.42L198.58 269.60L199.37 268.53L200.16 267.50L200.96 266.50L201.77 265.55L202.58 264.62L203.40 263.73L204.22 262.87L205.05 262.04L205.88 261.24L206.72 260.47L207.57 259.72L208.42 259.01L209.28 258.31L210.14 257.64L211.01 256.99L211.88 256.37L212.77 255.76L213.65 255.18L214.54 254.61L215.44 254.07L216.34 253.54L217.25 253.03L218.16 252.54L219.08 252.06L220.01 251.60L220.94 251.16L221.87 250.73L222.82 250.31L223.76 249.91L224.71 249.51L225.67 249.13L226.63 248.76L227.60 248.41L228.58 248.06L229.56 247.72L230.54 247.39L231.53 247.07L232.52 246.76L233.52 246.46L234.53 246.17L235.54 245.89L236.56 245.62L237.58 245.35L238.61 245.10L239.64 244.85L240.67 244.61L241.72 244.38L242.76 244.16L243.82 243.95L244.87 243.74L245.94 243.55L247.01 243.36L248.08 243.17L249.16 243.00L250.24 242.83L251.33 242.66L252.42 242.50L253.52 242.35L254.62 242.20L255.73 242.06L256.85 241.92L257.96 241.78L259.09 241.65L260.22 241.52L261.35 241.39L262.49 241.27L263.63 241.15L264.78 241.03L265.93 240.91L267.09 240.80L268.26 240.68L269.42 240.57L270.60 240.45L271.77 240.34L272.96 240.23L274.15 240.11L275.34 240.00L276.54 239.89L277.74 239.77L278.94 239.66L280.16 239.55L281.37 239.44L282.59 239.33L283.82 239.22L285.05 239.11L286.29 239.00L287.53 238.90L288.77 238.79L290.02 238.69L291.28 238.58L292.54 238.48L293.80 238.38L295.07 238.28L296.34 238.18L297.62 238.09L298.90 237.99L300.19 237.90L301.48 237.80L302.78 237.71L304.08 237.62L305.39 237.52L306.70 237.43L308.01 237.34L309.33 237.25L310.66 237.16L311.99 237.07L312.99 237.00L313.99 236.93L315.00 236.86L316.00 236.79L317.01 236.73L318.03 236.66L319.04 236.59L320.06 236.52L320.40 236.50" stroke="#a9d89a" stroke-opacity="0.80" stroke-width="1.80"/>
<path d="M157.40 368.90L158.42 368.90L159.46 368.80L160.22 368.09L160.85 367.24L161.45 366.27L161.92 365.39L162.42 364.37L162.85 363.41L163.29 362.35L163.75 361.20L164.13 360.21L164.51 359.17L164.90 358.09L165.30 356.96L165.71 355.79L166.13 354.58L166.56 353.34L166.88 352.38L167.21 351.41L167.54 350.41L167.88 349.40L168.23 348.36L168.57 347.30L168.92 346.23L169.28 345.13L169.64 344.01L170.00 342.86L170.37 341.69L170.74 340.50L171.12 339.29L171.50 338.05L171.89 336.79L172.28 335.51L172.67 334.20L173.07 332.87L173.47 331.53L173.88 330.17L174.29 328.79L174.70 327.39L175.12 325.98L175.54 324.55L175.97 323.11L176.25 322.15L176.54 321.18L176.83 320.20L177.12 319.22L177.41 318.24L177.71 317.25L178.00 316.26L178.30 315.26L178.60 314.26L178.90 313.26L179.21 312.26L179.51 311.25L179.82 310.24L180.13 309.23L180.44 308.23L180.75 307.22L181.06 306.21L181.38 305.20L181.69 304.20L182.01 303.20L182.33 302.20L182.65 301.21L182.98 300.22L183.30 299.25L183.63 298.27L183.96 297.31L184.29 296.35L184.62 295.40L185.12 294.00L185.62 292.61L186.13 291.26L186.64 289.92L187.16 288.62L187.68 287.34L188.20 286.09L188.72 284.87L189.25 283.67L189.79 282.50L190.32 281.36L190.86 280.24L191.40 279.14L191.95 278.06L192.50 277.01L193.05 275.98L193.61 274.98L194.17 274.00L194.74 273.04L195.30 272.10L195.87 271.19L196.45 270.31L197.03 269.44L197.61 268.60L198.19 267.79L198.98 266.73L199.77 265.71L200.56 264.73L201.37 263.79L202.17 262.88L202.99 262.01L203.81 261.17L204.63 260.36L205.46 259.59L206.30 258.84L207.15 258.12L207.99 257.43L208.85 256.76L209.71 256.12L210.58 255.50L211.45 254.90L212.32 254.33L213.21 253.77L214.10 253.23L214.99 252.72L215.89 252.22L216.80 251.74L217.71 251.27L218.62 250.82L219.55 250.39L220.47 249.98L221.41 249.58L222.34 249.19L223.29 248.81L224.24 248.45L225.19 248.10L226.15 247.75L227.12 247.42L228.09 247.10L229.07 246.78L230.05 246.48L231.03 246.18L232.03 245.89L233.02 245.61L234.03 245.34L235.04 245.08L236.05 244.83L237.07 244.59L238.09 244.36L239.12 244.14L240.16 243.93L241.19 243.72L242.24 243.53L243.29 243.34L244.34 243.16L245.41 242.99L246.47 242.83L247.54 242.67L248.62 242.53L249.70 242.39L250.78 242.25L251.87 242.12L252.97 241.99L254.07 241.87L255.18 241.76L256.29 241.65L257.40 241.54L258.53 241.43L259.65 241.33L260.78 241.23L261.92 241.13L263.06 241.03L264.21 240.94L265.36 240.84L266.51 240.75L267.67 240.66L268.84 240.56L270.01 240.47L271.19 240.37L272.37 240.28L273.55 240.18L274.74 240.08L275.94 239.98L277.14 239.88L278.34 239.78L279.55 239.68L280.76 239.58L281.98 239.47L283.21 239.37L284.44 239.27L285.67 239.16L286.91 239.06L288.15 238.96L289.40 238.86L290.65 238.75L291.91 238.65L293.17 238.55L294.43 238.45L295.71 238.35L296.98 238.25L298.26 238.15L299.55 238.06L300.84 237.96L302.13 237.86L303.43 237.76L304.74 237.66L306.04 237.57L307.36 237.47L308.67 237.37L310.00 237.27L311.32 237.17L312.32 237.10L313.32 237.02L314.33 236.95L315.33 236.87L316.34 236.80L317.35 236.72L318.37 236.65L319.38 236.57L320.40 236.50" stroke="#a8dde8" stroke-opacity="0.90" stroke-width="2.00"/>
<path d="M157.40 368.90L158.37 368.56L159.12 367.85L159.76 366.98L160.28 366.12L160.77 365.18L161.22 364.24L161.68 363.16L162.09 362.16L162.50 361.06L162.85 360.12L163.20 359.13L163.57 358.07L163.94 356.96L164.32 355.79L164.71 354.56L165.00 353.60L165.30 352.61L165.61 351.58L165.92 350.53L166.24 349.44L166.56 348.33L166.88 347.18L167.21 346.00L167.54 344.78L167.88 343.54L168.23 342.27L168.57 340.96L168.92 339.63L169.28 338.27L169.64 336.88L170.00 335.47L170.37 334.03L170.62 333.05L170.87 332.07L171.12 331.07L171.38 330.07L171.63 329.06L171.89 328.03L172.15 327.00L172.41 325.96L172.67 324.91L172.94 323.85L173.20 322.78L173.47 321.70L173.74 320.62L174.01 319.53L174.29 318.43L174.56 317.32L174.84 316.21L175.12 315.09L175.40 313.97L175.68 312.84L175.97 311.70L176.25 310.56L176.54 309.42L176.83 308.27L177.12 307.12L177.41 305.97L177.71 304.82L178.00 303.67L178.30 302.51L178.60 301.36L178.90 300.21L179.21 299.06L179.51 297.91L179.82 296.77L180.13 295.63L180.44 294.49L180.75 293.36L181.06 292.24L181.38 291.13L181.69 290.02L182.01 288.92L182.33 287.83L182.65 286.75L182.98 285.68L183.30 284.63L183.63 283.58L183.96 282.55L184.29 281.53L184.62 280.52L184.95 279.53L185.29 278.55L185.62 277.58L185.96 276.63L186.47 275.22L186.99 273.85L187.50 272.52L188.02 271.22L188.55 269.95L189.08 268.72L189.61 267.53L190.14 266.37L190.68 265.26L191.22 264.17L191.77 263.13L192.32 262.12L192.87 261.15L193.43 260.22L193.99 259.32L194.55 258.46L195.30 257.38L196.07 256.35L196.83 255.39L197.61 254.49L198.39 253.65L199.17 252.87L199.97 252.15L200.76 251.48L201.57 250.87L202.58 250.16L203.60 249.53L204.63 248.95L205.67 248.43L206.72 247.95L207.78 247.51L208.85 247.10L209.93 246.72L211.01 246.36L212.10 246.03L213.21 245.72L214.32 245.42L215.44 245.14L216.57 244.87L217.71 244.61L218.85 244.36L220.01 244.11L221.17 243.87L222.34 243.64L223.52 243.40L224.71 243.17L225.91 242.94L227.12 242.72L228.33 242.50L229.56 242.28L230.79 242.06L231.78 241.89L232.77 241.73L233.78 241.56L234.78 241.40L235.79 241.24L236.81 241.08L237.84 240.93L238.86 240.77L239.90 240.62L240.93 240.48L241.98 240.34L243.03 240.20L244.08 240.06L245.14 239.93L246.20 239.80L247.27 239.67L248.35 239.55L249.43 239.43L250.51 239.32L251.60 239.21L252.70 239.10L253.80 239.00L254.90 238.90L256.01 238.81L257.13 238.71L258.24 238.63L259.37 238.54L260.50 238.46L261.63 238.38L262.77 238.30L263.92 238.23L265.07 238.16L266.22 238.09L267.38 238.02L268.55 237.96L269.72 237.90L270.89 237.84L272.07 237.78L273.25 237.72L274.44 237.67L275.64 237.62L276.84 237.57L278.04 237.52L279.25 237.47L280.46 237.42L281.68 237.38L282.90 237.34L284.13 237.29L285.36 237.25L286.60 237.21L287.84 237.18L289.08 237.14L290.34 237.11L291.59 237.07L292.85 237.04L294.12 237.01L295.39 236.97L296.66 236.94L297.94 236.91L299.23 236.89L300.51 236.86L301.81 236.83L303.11 236.80L304.41 236.78L305.72 236.75L307.03 236.73L308.34 236.70L309.67 236.68L310.99 236.66L312.32 236.63L313.32 236.62L314.33 236.60L315.33 236.58L316.34 236.57L317.35 236.55L318.37 236.53L319.38 236.52L320.40 236.50" stroke="#f9a66c" stroke-opacity="0.95" stroke-width="2.40"/>
<path d="M157.40 368.90L158.37 368.66L159.23 368.07L159.89 367.31L160.49 366.35L160.99 365.41L161.45 364.46L161.92 363.37L162.34 362.36L162.76 361.25L163.11 360.30L163.47 359.28L163.84 358.20L164.22 357.07L164.61 355.88L165.00 354.64L165.30 353.67L165.61 352.68L165.92 351.65L166.24 350.60L166.56 349.52L166.88 348.41L167.21 347.28L167.54 346.11L167.88 344.92L168.23 343.71L168.57 342.46L168.92 341.19L169.28 339.90L169.64 338.57L170.00 337.23L170.37 335.86L170.74 334.46L171.12 333.04L171.50 331.60L171.76 330.62L172.02 329.64L172.28 328.64L172.54 327.64L172.80 326.63L173.07 325.61L173.34 324.58L173.61 323.55L173.88 322.50L174.15 321.45L174.42 320.39L174.70 319.32L174.98 318.25L175.26 317.17L175.54 316.09L175.82 315.00L176.11 313.90L176.40 312.80L176.68 311.70L176.97 310.59L177.27 309.48L177.56 308.37L177.86 307.25L178.15 306.14L178.45 305.02L178.75 303.90L179.06 302.78L179.36 301.67L179.67 300.55L179.97 299.44L180.28 298.33L180.59 297.23L180.91 296.13L181.22 295.03L181.54 293.94L181.85 292.86L182.17 291.78L182.49 290.72L182.82 289.66L183.14 288.61L183.47 287.58L183.79 286.55L184.12 285.54L184.45 284.53L184.79 283.54L185.12 282.57L185.46 281.60L185.79 280.65L186.30 279.25L186.81 277.88L187.33 276.55L187.85 275.25L188.37 273.98L188.90 272.75L189.43 271.55L189.96 270.39L190.50 269.26L191.04 268.17L191.59 267.10L192.13 266.07L192.69 265.08L193.24 264.12L193.80 263.19L194.36 262.29L194.93 261.43L195.49 260.60L196.26 259.54L197.03 258.54L197.80 257.60L198.58 256.71L199.37 255.88L200.16 255.09L200.96 254.36L201.77 253.67L202.58 253.03L203.40 252.43L204.43 251.73L205.46 251.08L206.51 250.47L207.57 249.91L208.63 249.39L209.71 248.89L210.79 248.43L211.88 247.99L212.99 247.58L214.10 247.18L215.21 246.81L216.34 246.45L217.48 246.11L218.62 245.78L219.78 245.46L220.94 245.16L222.11 244.86L223.29 244.57L224.48 244.29L225.67 244.02L226.88 243.75L228.09 243.48L229.31 243.22L230.29 243.02L231.28 242.83L232.28 242.63L233.27 242.44L234.28 242.26L235.29 242.08L236.30 241.90L237.32 241.73L238.35 241.57L239.38 241.40L240.41 241.25L241.46 241.10L242.50 240.95L243.55 240.81L244.61 240.68L245.67 240.54L246.74 240.42L247.81 240.30L248.89 240.18L249.97 240.07L251.06 239.97L252.15 239.86L253.25 239.77L254.35 239.67L255.45 239.58L256.57 239.49L257.68 239.41L258.81 239.33L259.93 239.25L261.07 239.17L262.20 239.10L263.35 239.03L264.49 238.96L265.65 238.89L266.80 238.82L267.96 238.76L269.13 238.69L270.30 238.63L271.48 238.56L272.66 238.50L273.85 238.44L275.04 238.38L276.24 238.32L277.44 238.26L278.64 238.20L279.85 238.14L281.07 238.08L282.29 238.02L283.51 237.96L284.74 237.90L285.98 237.85L287.22 237.79L288.46 237.73L289.71 237.68L290.96 237.62L292.22 237.57L293.48 237.52L294.75 237.47L296.02 237.41L297.30 237.36L298.58 237.31L299.87 237.26L301.16 237.21L302.46 237.16L303.76 237.11L305.06 237.06L306.37 237.01L307.69 236.96L309.00 236.92L310.33 236.87L311.66 236.82L312.99 236.77L313.99 236.73L315.00 236.70L316.00 236.66L317.01 236.62L318.03 236.59L319.04 236.55L320.06 236.51L320.40 236.50" stroke="#ece36a" stroke-opacity="0.95" stroke-width="2.00"/>
<path d="M157.40 368.90L158.42 368.76L159.40 368.37L160.08 367.61L160.70 366.66L161.22 365.72L161.68 364.76L162.17 363.67L162.59 362.64L163.02 361.51L163.38 360.54L163.75 359.50L164.13 358.41L164.51 357.26L164.90 356.06L165.30 354.81L165.61 353.84L165.92 352.85L166.24 351.83L166.56 350.79L166.88 349.73L167.21 348.64L167.54 347.53L167.88 346.40L168.23 345.24L168.57 344.06L168.92 342.86L169.28 341.63L169.64 340.38L170.00 339.11L170.37 337.81L170.74 336.48L171.12 335.14L171.50 333.76L171.89 332.37L172.28 330.96L172.67 329.52L172.94 328.55L173.20 327.57L173.47 326.58L173.74 325.59L174.01 324.59L174.29 323.58L174.56 322.56L174.84 321.54L175.12 320.51L175.40 319.47L175.68 318.43L175.97 317.38L176.25 316.33L176.54 315.27L176.83 314.21L177.12 313.14L177.41 312.07L177.71 311.00L178.00 309.93L178.30 308.85L178.60 307.77L178.90 306.69L179.21 305.61L179.51 304.52L179.82 303.44L180.13 302.36L180.44 301.28L180.75 300.21L181.06 299.13L181.38 298.07L181.69 297.00L182.01 295.94L182.33 294.89L182.65 293.85L182.98 292.81L183.30 291.79L183.63 290.77L183.96 289.77L184.29 288.77L184.62 287.79L184.95 286.81L185.29 285.85L185.62 284.91L186.13 283.51L186.64 282.15L187.16 280.81L187.68 279.51L188.20 278.25L188.72 277.02L189.25 275.82L189.79 274.65L190.32 273.51L190.86 272.40L191.40 271.33L191.95 270.28L192.50 269.26L193.05 268.27L193.61 267.31L194.17 266.38L194.74 265.47L195.30 264.60L195.87 263.76L196.64 262.68L197.41 261.65L198.19 260.66L198.98 259.73L199.77 258.84L200.56 258.00L201.37 257.21L202.17 256.45L202.99 255.73L203.81 255.05L204.63 254.41L205.46 253.79L206.30 253.21L207.15 252.65L207.99 252.12L209.06 251.49L210.14 250.90L211.23 250.34L212.32 249.80L213.43 249.29L214.54 248.81L215.66 248.35L216.80 247.91L217.94 247.49L219.08 247.09L220.24 246.70L221.41 246.33L222.58 245.98L223.76 245.64L224.95 245.31L226.15 244.98L227.36 244.67L228.33 244.43L229.31 244.19L230.29 243.96L231.28 243.73L232.28 243.51L233.27 243.30L234.28 243.09L235.29 242.89L236.30 242.70L237.32 242.51L238.35 242.33L239.38 242.16L240.41 241.99L241.46 241.83L242.50 241.68L243.55 241.54L244.61 241.40L245.67 241.28L246.74 241.15L247.81 241.04L248.89 240.92L249.97 240.82L251.06 240.72L252.15 240.62L253.25 240.53L254.35 240.44L255.45 240.36L256.57 240.27L257.68 240.20L258.81 240.12L259.93 240.05L261.07 239.98L262.20 239.91L263.35 239.84L264.49 239.77L265.65 239.70L266.80 239.64L267.96 239.57L269.13 239.51L270.30 239.44L271.48 239.37L272.66 239.30L273.85 239.23L275.04 239.16L276.24 239.09L277.44 239.02L278.64 238.94L279.85 238.87L281.07 238.80L282.29 238.72L283.51 238.65L284.74 238.57L285.98 238.50L287.22 238.42L288.46 238.35L289.71 238.27L290.96 238.20L292.22 238.12L293.48 238.05L294.75 237.97L296.02 237.90L297.30 237.82L298.58 237.75L299.87 237.68L301.16 237.60L302.46 237.53L303.76 237.45L305.06 237.38L306.37 237.30L307.69 237.23L309.00 237.15L310.33 237.08L311.66 237.00L312.66 236.94L313.66 236.89L314.66 236.83L315.67 236.77L316.68 236.71L317.69 236.65L318.70 236.60L319.72 236.54L320.40 236.50" stroke="#f08a6e" stroke-opacity="0.90" stroke-width="2.20"/>
<path d="M157.40 368.90L158.16 368.24L159.01 367.70L159.89 367.09L160.70 366.48L161.52 365.81L162.34 365.09L163.11 364.36L163.84 363.64L164.61 362.84L165.30 362.08L166.03 361.26L166.77 360.37L167.43 359.57L168.11 358.72L168.81 357.82L169.52 356.88L170.13 356.06L170.74 355.21L171.38 354.32L172.02 353.40L172.67 352.45L173.34 351.47L174.01 350.46L174.70 349.42L175.26 348.56L175.82 347.69L176.40 346.80L176.97 345.90L177.56 344.98L178.15 344.04L178.75 343.10L179.36 342.14L179.97 341.17L180.59 340.19L181.22 339.20L181.85 338.20L182.49 337.20L183.14 336.18L183.79 335.16L184.45 334.14L185.12 333.11L185.79 332.07L186.47 331.04L187.16 329.99L187.85 328.95L188.55 327.91L189.25 326.86L189.96 325.81L190.68 324.76L191.40 323.72L192.13 322.67L192.87 321.62L193.61 320.57L194.36 319.52L195.11 318.47L195.87 317.43L196.64 316.38L197.41 315.34L198.19 314.29L198.98 313.25L199.77 312.20L200.56 311.15L201.37 310.11L202.17 309.06L202.99 308.02L203.81 306.97L204.63 305.93L205.46 304.89L206.09 304.11L206.72 303.33L207.36 302.55L207.99 301.77L208.63 301.00L209.28 300.23L209.93 299.46L210.58 298.69L211.23 297.92L211.88 297.16L212.54 296.40L213.21 295.64L213.87 294.88L214.54 294.13L215.21 293.37L215.89 292.62L216.57 291.88L217.25 291.13L217.94 290.39L218.62 289.65L219.31 288.92L220.01 288.18L220.71 287.45L221.41 286.73L222.11 286.00L222.82 285.29L223.52 284.57L224.24 283.86L224.95 283.15L225.67 282.44L226.39 281.74L227.12 281.04L227.85 280.35L228.58 279.66L229.31 278.98L230.05 278.30L230.79 277.62L231.53 276.95L232.52 276.07L233.52 275.19L234.53 274.33L235.54 273.47L236.56 272.62L237.58 271.78L238.61 270.96L239.64 270.14L240.67 269.33L241.72 268.54L242.76 267.75L243.82 266.98L244.87 266.21L245.94 265.46L247.01 264.72L248.08 263.99L249.16 263.27L250.24 262.57L251.33 261.87L252.42 261.19L253.52 260.51L254.62 259.85L255.73 259.20L256.85 258.55L257.96 257.92L259.09 257.30L260.22 256.68L261.35 256.08L262.49 255.48L263.63 254.89L264.78 254.32L265.93 253.74L267.09 253.18L268.26 252.63L269.42 252.08L270.60 251.54L271.77 251.02L272.96 250.49L274.15 249.98L275.34 249.48L276.54 248.98L277.74 248.49L278.94 248.01L280.16 247.54L281.37 247.08L282.59 246.62L283.82 246.17L285.05 245.74L286.29 245.31L287.53 244.89L288.77 244.47L290.02 244.07L291.28 243.67L292.54 243.28L293.80 242.90L295.07 242.53L296.34 242.17L297.62 241.81L298.90 241.46L300.19 241.12L301.16 240.86L302.13 240.61L303.11 240.37L304.08 240.13L305.06 239.89L306.04 239.65L307.03 239.42L308.01 239.19L309.00 238.96L310.00 238.74L310.99 238.51L311.99 238.29L312.99 238.07L313.99 237.85L315.00 237.64L316.00 237.42L317.01 237.21L318.03 236.99L319.04 236.78L320.06 236.56L320.40 236.50" stroke="#000" stroke-width="2.10"/>
<path d="M157.40 368.90L158.42 368.90L159.46 368.90L160.22 368.15L160.85 367.25L161.37 366.34L161.84 365.42L162.34 364.34L162.76 363.33L163.20 362.20L163.57 361.23L163.94 360.19L164.32 359.10L164.71 357.96L165.10 356.77L165.51 355.54L165.92 354.27L166.24 353.30L166.56 352.31L166.88 351.30L167.21 350.27L167.54 349.22L167.88 348.15L168.23 347.07L168.57 345.96L168.92 344.84L169.28 343.69L169.64 342.53L170.00 341.34L170.37 340.12L170.74 338.89L171.12 337.62L171.50 336.34L171.89 335.03L172.28 333.70L172.67 332.35L173.07 330.97L173.47 329.58L173.88 328.17L174.29 326.74L174.56 325.77L174.84 324.80L175.12 323.83L175.40 322.84L175.68 321.86L175.97 320.86L176.25 319.86L176.54 318.86L176.83 317.85L177.12 316.83L177.41 315.81L177.71 314.79L178.00 313.76L178.30 312.73L178.60 311.70L178.90 310.66L179.21 309.62L179.51 308.58L179.82 307.53L180.13 306.49L180.44 305.45L180.75 304.40L181.06 303.36L181.38 302.32L181.69 301.28L182.01 300.25L182.33 299.22L182.65 298.20L182.98 297.18L183.30 296.18L183.63 295.18L183.96 294.19L184.29 293.21L184.62 292.24L184.95 291.28L185.29 290.33L185.79 288.93L186.30 287.57L186.81 286.23L187.33 284.92L187.85 283.65L188.37 282.41L188.90 281.20L189.43 280.02L189.96 278.87L190.50 277.75L191.04 276.65L191.59 275.57L192.13 274.52L192.69 273.49L193.24 272.49L193.80 271.52L194.36 270.56L194.93 269.63L195.49 268.73L196.07 267.85L196.64 267.00L197.22 266.17L198.00 265.10L198.78 264.07L199.57 263.08L200.36 262.13L201.16 261.22L201.97 260.35L202.78 259.51L203.60 258.71L204.43 257.94L205.26 257.20L206.09 256.49L206.93 255.81L207.78 255.16L208.63 254.54L209.49 253.94L210.36 253.37L211.23 252.81L212.10 252.28L212.99 251.77L213.87 251.28L214.77 250.80L215.66 250.35L216.57 249.91L217.48 249.49L218.39 249.08L219.55 248.60L220.71 248.14L221.87 247.70L222.82 247.36L223.76 247.03L224.71 246.72L225.67 246.41L226.63 246.11L227.60 245.82L228.58 245.54L229.56 245.26L230.54 245.00L231.53 244.74L232.52 244.49L233.52 244.25L234.53 244.02L235.54 243.80L236.56 243.58L237.58 243.38L238.61 243.19L239.64 243.01L240.67 242.83L241.72 242.67L242.76 242.52L243.82 242.37L244.87 242.24L245.94 242.11L247.01 241.99L248.08 241.88L249.16 241.78L250.24 241.68L251.33 241.59L252.42 241.50L253.52 241.42L254.62 241.34L255.73 241.26L256.85 241.19L257.96 241.12L259.09 241.05L260.22 240.98L261.35 240.91L262.49 240.85L263.63 240.79L264.78 240.72L265.93 240.66L267.09 240.59L268.26 240.52L269.42 240.45L270.60 240.38L271.77 240.31L272.96 240.23L274.15 240.15L275.34 240.07L276.54 239.99L277.74 239.90L278.94 239.81L280.16 239.72L281.37 239.63L282.59 239.54L283.82 239.44L285.05 239.35L286.29 239.25L287.53 239.15L288.77 239.05L290.02 238.95L291.28 238.85L292.54 238.75L293.80 238.65L295.07 238.55L296.34 238.45L297.62 238.35L298.90 238.25L300.19 238.14L301.48 238.04L302.78 237.94L304.08 237.83L305.39 237.73L306.70 237.62L308.01 237.52L309.33 237.41L310.66 237.30L311.99 237.19L312.99 237.11L313.99 237.03L315.00 236.94L316.00 236.86L317.01 236.78L318.03 236.69L319.04 236.61L320.06 236.53L320.40 236.50" stroke="#000" stroke-width="2.10" stroke-dasharray="4 4"/>
</g>
<rect x="157.40" y="236.50" width="163.00" height="132.40" fill="none" stroke="#858585" stroke-width="1"/>
<text x="153.10" y="373.20" font-size="13.80" text-anchor="end">0</text>
<text x="153.10" y="346.72" font-size="13.80" text-anchor="end">0.2</text>
<text x="153.10" y="320.24" font-size="13.80" text-anchor="end">0.4</text>
<text x="153.10" y="293.76" font-size="13.80" text-anchor="end">0.6</text>
<text x="153.10" y="267.28" font-size="13.80" text-anchor="end">0.8</text>
<text x="153.10" y="240.80" font-size="13.80" text-anchor="end">1</text>
<text x="157.40" y="382.50" font-size="13.80" text-anchor="middle">0</text>
<text x="190.00" y="382.50" font-size="13.80" text-anchor="middle">2</text>
<text x="222.60" y="382.50" font-size="13.80" text-anchor="middle">4</text>
<text x="255.20" y="382.50" font-size="13.80" text-anchor="middle">6</text>
<text x="287.80" y="382.50" font-size="13.80" text-anchor="middle">8</text>
<text x="320.40" y="382.50" font-size="13.80" text-anchor="middle">10</text>
<text x="238.90" y="402.40" font-size="13.80" text-anchor="middle" textLength="78.9" lengthAdjust="spacing">SO<tspan font-size="9.6" dy="2.2">2</tspan><tspan dy="-2.2"> </tspan>[<tspan font-style="italic">μ</tspan>m/m<tspan font-size="9.6" dy="-5.2">3</tspan><tspan dy="5.2">]</tspan></text>
<text transform="translate(123.80 302.70) rotate(-90)" font-size="13.80" text-anchor="middle" textLength="59" lengthAdjust="spacing">cum. freq.</text>
<text x="238.90" y="220.30" font-size="13.80" text-anchor="middle">(d)</text>
<clipPath id="clipe"><rect x="394.90" y="235.00" width="166.00" height="135.40"/></clipPath>
<path d="M396.40 368.90v-5.60M396.40 236.50v5.60M407.27 368.90v-3.70M407.27 236.50v3.70M418.13 368.90v-3.70M418.13 236.50v3.70M429.00 368.90v-5.60M429.00 236.50v5.60M439.87 368.90v-3.70M439.87 236.50v3.70M450.73 368.90v-3.70M450.73 236.50v3.70M461.60 368.90v-5.60M461.60 236.50v5.60M472.47 368.90v-3.70M472.47 236.50v3.70M483.33 368.90v-3.70M483.33 236.50v3.70M494.20 368.90v-5.60M494.20 236.50v5.60M505.07 368.90v-3.70M505.07 236.50v3.70M515.93 368.90v-3.70M515.93 236.50v3.70M526.80 368.90v-5.60M526.80 236.50v5.60M537.67 368.90v-3.70M537.67 236.50v3.70M548.53 368.90v-3.70M548.53 236.50v3.70M559.40 368.90v-5.60M559.40 236.50v5.60M396.40 368.90h5.60M559.40 368.90h-5.60M396.40 360.07h3.70M559.40 360.07h-3.70M396.40 351.25h3.70M559.40 351.25h-3.70M396.40 342.42h5.60M559.40 342.42h-5.60M396.40 333.59h3.70M559.40 333.59h-3.70M396.40 324.77h3.70M559.40 324.77h-3.70M396.40 315.94h5.60M559.40 315.94h-5.60M396.40 307.11h3.70M559.40 307.11h-3.70M396.40 298.29h3.70M559.40 298.29h-3.70M396.40 289.46h5.60M559.40 289.46h-5.60M396.40 280.63h3.70M559.40 280.63h-3.70M396.40 271.81h3.70M559.40 271.81h-3.70M396.40 262.98h5.60M559.40 262.98h-5.60M396.40 254.15h3.70M559.40 254.15h-3.70M396.40 245.33h3.70M559.40 245.33h-3.70M396.40 236.50h5.60M559.40 236.50h-5.60" stroke="#a4a4a4" stroke-width="0.8" fill="none"/>
<g clip-path="url(#clipe)" fill="none" stroke-linejoin="round" stroke-linecap="butt">
<path d="M396.40 368.90L397.42 368.90L398.44 368.90L399.46 368.90L400.48 368.90L401.50 368.90L402.52 368.90L403.54 368.90L404.56 368.90L405.58 368.90L406.60 368.90L407.62 368.90L408.64 368.90L409.66 368.90L410.68 368.90L411.70 368.90L412.72 368.90L413.74 368.90L414.76 368.90L415.78 368.90L416.80 368.90L417.82 368.90L418.84 368.90L419.86 368.90L420.88 368.90L421.90 368.90L422.92 368.90L423.94 368.90L424.96 368.90L425.98 368.90L427.00 368.90L428.02 368.90L429.04 368.90L430.06 368.90L431.08 368.90L432.10 368.90L433.12 368.90L434.14 368.90L435.16 368.85L436.18 368.67L437.20 368.47L438.22 368.26L439.24 368.04L440.26 367.80L441.28 367.54L442.30 367.27L443.32 366.97L444.34 366.66L445.36 366.33L446.38 365.98L447.40 365.61L448.42 365.22L449.44 364.80L450.46 364.36L451.48 363.90L452.50 363.42L453.52 362.90L454.54 362.37L455.56 361.81L456.58 361.22L457.60 360.61L458.62 359.97L459.64 359.31L460.66 358.63L461.68 357.92L462.50 357.33L463.31 356.74L464.13 356.12L464.95 355.49L465.76 354.85L466.58 354.19L467.39 353.51L468.21 352.83L469.03 352.12L469.84 351.41L470.66 350.68L471.47 349.94L472.29 349.18L473.11 348.41L473.92 347.63L474.74 346.83L475.55 346.02L476.37 345.20L477.19 344.37L478.00 343.53L478.82 342.67L479.63 341.80L480.45 340.92L481.27 340.03L482.08 339.12L482.90 338.21L483.71 337.28L484.53 336.35L485.35 335.40L486.16 334.44L486.98 333.47L487.79 332.49L488.61 331.50L489.43 330.50L490.24 329.49L491.06 328.47L491.87 327.44L492.69 326.40L493.51 325.35L494.12 324.56L494.73 323.76L495.34 322.96L495.95 322.15L496.57 321.34L497.18 320.52L497.79 319.70L498.40 318.87L499.01 318.04L499.63 317.21L500.24 316.37L500.85 315.53L501.46 314.68L502.07 313.83L502.69 312.98L503.30 312.12L503.91 311.26L504.52 310.40L505.13 309.53L505.75 308.66L506.36 307.79L506.97 306.92L507.58 306.04L508.19 305.16L508.81 304.28L509.42 303.40L510.03 302.52L510.64 301.64L511.25 300.75L511.87 299.87L512.48 298.98L513.09 298.10L513.70 297.21L514.31 296.33L514.93 295.45L515.54 294.56L516.15 293.68L516.76 292.80L517.37 291.92L517.99 291.04L518.60 290.16L519.21 289.29L519.82 288.41L520.44 287.54L521.05 286.67L521.66 285.80L522.27 284.94L522.88 284.07L523.50 283.21L524.11 282.35L524.72 281.50L525.33 280.65L525.94 279.80L526.56 278.95L527.17 278.10L527.78 277.26L528.39 276.43L529.00 275.59L529.62 274.76L530.23 273.94L530.84 273.11L531.45 272.29L532.06 271.47L532.68 270.66L533.29 269.84L533.90 269.03L534.51 268.22L535.12 267.41L535.74 266.61L536.35 265.81L536.96 265.00L537.57 264.20L538.18 263.40L538.80 262.61L539.41 261.81L540.02 261.01L540.63 260.22L541.24 259.43L541.86 258.63L542.47 257.84L543.28 256.79L544.10 255.74L544.92 254.69L545.73 253.64L546.55 252.59L547.36 251.55L548.18 250.51L549.00 249.47L549.81 248.43L550.63 247.40L551.44 246.37L552.26 245.35L553.08 244.33L553.89 243.31L554.71 242.29L555.52 241.28L556.34 240.27L557.16 239.26L557.97 238.25L558.79 237.25L559.40 236.50" stroke="#7f93d6" stroke-opacity="0.90" stroke-width="2.40"/>
<path d="M396.40 368.90L397.42 368.90L398.44 368.90L399.46 368.90L400.48 368.90L401.50 368.90L402.52 368.90L403.54 368.90L404.56 368.90L405.58 368.90L406.60 368.90L407.62 368.90L408.64 368.90L409.66 368.90L410.68 368.90L411.70 368.90L412.72 368.90L413.74 368.90L414.76 368.90L415.78 368.90L416.80 368.90L417.82 368.87L418.84 368.82L419.86 368.76L420.88 368.70L421.90 368.63L422.92 368.55L423.94 368.46L424.96 368.37L425.98 368.26L427.00 368.15L428.02 368.03L429.04 367.90L430.06 367.76L431.08 367.61L432.10 367.44L433.12 367.27L434.14 367.09L435.16 366.87L436.18 366.60L437.20 366.31L438.22 366.00L439.24 365.67L440.26 365.33L441.28 364.96L442.30 364.58L443.32 364.18L444.34 363.75L445.36 363.31L446.38 362.85L447.40 362.36L448.42 361.85L449.44 361.33L450.46 360.77L451.48 360.20L452.50 359.60L453.52 358.98L454.54 358.33L455.56 357.66L456.58 356.96L457.60 356.24L458.42 355.65L459.23 355.04L460.05 354.42L460.87 353.78L461.68 353.13L462.50 352.46L463.31 351.78L464.13 351.08L464.95 350.37L465.76 349.65L466.58 348.91L467.39 348.16L468.21 347.40L469.03 346.62L469.84 345.83L470.66 345.02L471.47 344.21L472.29 343.38L473.11 342.54L473.92 341.68L474.74 340.82L475.55 339.94L476.37 339.05L477.19 338.15L478.00 337.24L478.82 336.31L479.63 335.38L480.45 334.44L481.27 333.48L482.08 332.51L482.90 331.54L483.71 330.56L484.53 329.56L485.35 328.56L486.16 327.55L486.98 326.53L487.79 325.50L488.61 324.46L489.43 323.42L490.24 322.37L490.85 321.58L491.47 320.78L492.08 319.98L492.69 319.18L493.30 318.38L493.91 317.57L494.53 316.75L495.14 315.94L495.75 315.12L496.36 314.30L496.97 313.48L497.59 312.65L498.20 311.82L498.81 310.99L499.42 310.16L500.03 309.32L500.65 308.49L501.26 307.65L501.87 306.81L502.48 305.97L503.09 305.13L503.71 304.28L504.32 303.44L504.93 302.59L505.54 301.75L506.15 300.90L506.77 300.06L507.38 299.21L507.99 298.37L508.60 297.52L509.21 296.68L509.83 295.84L510.44 294.99L511.05 294.15L511.66 293.31L512.27 292.47L512.89 291.63L513.50 290.80L514.11 289.96L514.72 289.13L515.33 288.30L515.95 287.47L516.56 286.64L517.17 285.82L517.78 285.00L518.39 284.18L519.01 283.36L519.62 282.55L520.23 281.74L520.84 280.93L521.46 280.12L522.07 279.32L522.68 278.52L523.29 277.72L523.90 276.93L524.72 275.88L525.54 274.83L526.35 273.79L527.17 272.76L527.98 271.73L528.80 270.71L529.62 269.70L530.43 268.70L531.25 267.70L532.06 266.71L532.88 265.72L533.70 264.74L534.51 263.77L535.33 262.80L536.14 261.84L536.96 260.88L537.78 259.93L538.59 258.98L539.41 258.04L540.22 257.11L541.04 256.18L541.86 255.25L542.67 254.34L543.49 253.42L544.30 252.51L545.12 251.61L545.94 250.70L546.75 249.81L547.57 248.92L548.38 248.03L549.20 247.15L550.02 246.28L550.83 245.41L551.65 244.54L552.46 243.68L553.28 242.82L554.10 241.97L554.91 241.12L555.73 240.27L556.54 239.43L557.36 238.58L558.18 237.74L558.99 236.90L559.40 236.50" stroke="#f08a6e" stroke-opacity="0.70" stroke-width="2.00"/>
<path d="M396.40 368.90L397.42 368.90L398.44 368.90L399.46 368.90L400.48 368.90L401.50 368.90L402.52 368.90L403.54 368.90L404.56 368.90L405.58 368.90L406.60 368.90L407.62 368.90L408.64 368.90L409.66 368.90L410.68 368.90L411.70 368.90L412.72 368.90L413.74 368.90L414.76 368.90L415.78 368.90L416.80 368.90L417.82 368.86L418.84 368.79L419.86 368.72L420.88 368.64L421.90 368.55L422.92 368.45L423.94 368.33L424.96 368.21L425.98 368.08L427.00 367.93L428.02 367.78L429.04 367.61L430.06 367.42L431.08 367.23L432.10 367.02L433.12 366.80L434.14 366.56L435.16 366.30L436.18 366.00L437.20 365.68L438.22 365.34L439.24 364.98L440.26 364.61L441.28 364.21L442.30 363.80L443.32 363.36L444.34 362.91L445.36 362.43L446.38 361.94L447.40 361.42L448.42 360.88L449.44 360.32L450.46 359.73L451.48 359.12L452.50 358.49L453.52 357.84L454.54 357.16L455.56 356.45L456.38 355.87L457.19 355.28L458.01 354.67L458.83 354.04L459.64 353.40L460.46 352.75L461.27 352.08L462.09 351.39L462.91 350.69L463.72 349.98L464.54 349.26L465.35 348.52L466.17 347.76L466.99 346.99L467.80 346.21L468.62 345.42L469.43 344.61L470.25 343.79L471.07 342.96L471.88 342.12L472.70 341.26L473.51 340.39L474.33 339.51L475.15 338.62L475.96 337.72L476.78 336.80L477.59 335.88L478.41 334.94L479.23 333.99L480.04 333.04L480.86 332.07L481.67 331.09L482.49 330.10L483.31 329.10L484.12 328.10L484.94 327.08L485.75 326.06L486.57 325.03L487.39 323.99L488.20 322.95L489.02 321.90L489.63 321.10L490.24 320.31L490.85 319.51L491.47 318.70L492.08 317.90L492.69 317.09L493.30 316.28L493.91 315.46L494.53 314.64L495.14 313.82L495.75 313.00L496.36 312.18L496.97 311.35L497.59 310.52L498.20 309.69L498.81 308.86L499.42 308.03L500.03 307.20L500.65 306.36L501.26 305.52L501.87 304.69L502.48 303.85L503.09 303.01L503.71 302.17L504.32 301.34L504.93 300.50L505.54 299.66L506.15 298.82L506.77 297.98L507.38 297.15L507.99 296.31L508.60 295.48L509.21 294.64L509.83 293.81L510.44 292.98L511.05 292.15L511.66 291.32L512.27 290.50L512.89 289.67L513.50 288.85L514.11 288.03L514.72 287.21L515.33 286.40L515.95 285.58L516.56 284.77L517.17 283.96L517.78 283.16L518.39 282.36L519.01 281.56L519.62 280.76L520.23 279.97L521.05 278.91L521.86 277.86L522.68 276.82L523.50 275.79L524.31 274.76L525.13 273.74L525.94 272.72L526.76 271.71L527.58 270.71L528.39 269.71L529.21 268.72L530.02 267.74L530.84 266.77L531.66 265.80L532.47 264.84L533.29 263.89L534.10 262.94L534.92 262.00L535.74 261.07L536.55 260.14L537.37 259.22L538.18 258.31L539.00 257.40L539.82 256.50L540.63 255.61L541.45 254.72L542.26 253.83L543.08 252.96L543.90 252.08L544.71 251.22L545.53 250.36L546.34 249.50L547.16 248.65L547.98 247.81L548.79 246.97L549.61 246.14L550.42 245.31L551.24 244.49L552.06 243.67L552.87 242.86L553.69 242.05L554.50 241.25L555.32 240.45L556.14 239.65L556.95 238.86L557.77 238.06L558.58 237.27L559.40 236.50" stroke="#f8b48a" stroke-opacity="0.90" stroke-width="2.20"/>
<path d="M396.40 368.90L397.42 368.90L398.44 368.90L399.46 368.90L400.48 368.90L401.50 368.90L402.52 368.90L403.54 368.90L404.56 368.90L405.58 368.90L406.60 368.90L407.62 368.90L408.64 368.90L409.66 368.90L410.68 368.90L411.70 368.90L412.72 368.89L413.74 368.88L414.76 368.87L415.78 368.85L416.80 368.83L417.82 368.76L418.84 368.67L419.86 368.57L420.88 368.45L421.90 368.32L422.92 368.18L423.94 368.02L424.96 367.85L425.98 367.66L427.00 367.46L428.02 367.24L429.04 367.00L430.06 366.74L431.08 366.46L432.10 366.16L433.12 365.84L434.14 365.51L435.16 365.15L436.18 364.77L437.20 364.37L438.22 363.94L439.24 363.50L440.26 363.03L441.28 362.54L442.30 362.03L443.32 361.49L444.34 360.94L445.36 360.36L446.38 359.76L447.40 359.13L448.42 358.48L449.44 357.82L450.46 357.12L451.48 356.41L452.30 355.82L453.11 355.22L453.93 354.60L454.75 353.96L455.56 353.32L456.38 352.65L457.19 351.98L458.01 351.29L458.83 350.58L459.64 349.86L460.46 349.13L461.27 348.38L462.09 347.62L462.91 346.85L463.72 346.07L464.54 345.27L465.35 344.46L466.17 343.64L466.99 342.81L467.80 341.96L468.62 341.11L469.43 340.24L470.25 339.36L471.07 338.48L471.88 337.58L472.70 336.67L473.51 335.76L474.33 334.83L475.15 333.90L475.96 332.95L476.78 332.00L477.59 331.04L478.41 330.06L479.23 329.08L480.04 328.10L480.86 327.10L481.67 326.10L482.49 325.08L483.31 324.07L484.12 323.04L484.94 322.01L485.75 320.97L486.57 319.93L487.39 318.88L488.20 317.82L488.81 317.03L489.43 316.23L490.04 315.43L490.65 314.63L491.26 313.83L491.87 313.02L492.49 312.21L493.10 311.40L493.71 310.59L494.32 309.77L494.93 308.96L495.55 308.14L496.16 307.32L496.77 306.51L497.38 305.69L497.99 304.86L498.61 304.04L499.22 303.22L499.83 302.40L500.44 301.58L501.05 300.75L501.67 299.93L502.28 299.11L502.89 298.29L503.50 297.47L504.11 296.65L504.73 295.83L505.34 295.01L505.95 294.20L506.56 293.38L507.17 292.57L507.79 291.76L508.40 290.95L509.01 290.14L509.62 289.33L510.23 288.53L510.85 287.73L511.46 286.93L512.07 286.13L512.68 285.34L513.50 284.29L514.31 283.24L515.13 282.19L515.95 281.16L516.76 280.12L517.58 279.10L518.39 278.07L519.21 277.06L520.03 276.05L520.84 275.05L521.66 274.05L522.48 273.06L523.29 272.08L524.11 271.10L524.92 270.13L525.74 269.17L526.56 268.22L527.37 267.27L528.19 266.33L529.00 265.40L529.82 264.48L530.64 263.57L531.45 262.66L532.27 261.77L533.08 260.88L533.90 260.00L534.72 259.13L535.53 258.27L536.35 257.41L537.16 256.57L537.98 255.73L538.80 254.90L539.61 254.08L540.43 253.27L541.24 252.46L542.06 251.67L542.88 250.88L543.69 250.10L544.51 249.33L545.32 248.57L546.14 247.81L546.96 247.06L547.77 246.32L548.59 245.59L549.40 244.87L550.22 244.15L551.04 243.44L551.85 242.74L552.67 242.04L553.48 241.35L554.30 240.67L555.12 239.99L555.93 239.32L556.75 238.65L557.56 237.98L558.38 237.31L559.20 236.65L559.40 236.50" stroke="#a8dde8" stroke-opacity="0.90" stroke-width="2.00"/>
<path d="M396.40 368.90L397.42 368.90L398.44 368.90L399.46 368.90L400.48 368.90L401.50 368.90L402.52 368.90L403.54 368.90L404.56 368.90L405.58 368.90L406.60 368.90L407.62 368.90L408.64 368.90L409.66 368.90L410.68 368.90L411.70 368.90L412.72 368.89L413.74 368.86L414.76 368.83L415.78 368.79L416.80 368.75L417.82 368.67L418.84 368.57L419.86 368.46L420.88 368.33L421.90 368.19L422.92 368.03L423.94 367.85L424.96 367.66L425.98 367.45L427.00 367.22L428.02 366.98L429.04 366.71L430.06 366.42L431.08 366.10L432.10 365.77L433.12 365.41L434.14 365.04L435.16 364.63L436.18 364.20L437.20 363.75L438.22 363.28L439.24 362.77L440.26 362.25L441.28 361.70L442.30 361.12L443.32 360.52L444.34 359.90L445.36 359.25L446.38 358.58L447.40 357.89L448.42 357.18L449.24 356.59L450.05 355.98L450.87 355.36L451.69 354.73L452.50 354.08L453.32 353.42L454.13 352.74L454.95 352.05L455.77 351.34L456.58 350.62L457.40 349.89L458.21 349.14L459.03 348.38L459.85 347.60L460.66 346.82L461.48 346.02L462.29 345.21L463.11 344.39L463.93 343.55L464.74 342.71L465.56 341.85L466.37 340.99L467.19 340.11L468.01 339.23L468.82 338.33L469.64 337.43L470.45 336.52L471.27 335.60L472.09 334.67L472.90 333.73L473.72 332.79L474.53 331.84L475.35 330.88L476.17 329.92L476.98 328.94L477.80 327.97L478.61 326.98L479.43 325.99L480.25 324.99L481.06 323.98L481.88 322.97L482.69 321.95L483.51 320.93L484.33 319.91L485.14 318.87L485.96 317.84L486.77 316.79L487.59 315.75L488.41 314.70L489.22 313.64L489.83 312.85L490.45 312.05L491.06 311.26L491.67 310.46L492.28 309.66L492.89 308.85L493.51 308.05L494.12 307.25L494.73 306.44L495.34 305.63L495.95 304.82L496.57 304.01L497.18 303.20L497.79 302.39L498.40 301.58L499.01 300.77L499.63 299.96L500.24 299.15L500.85 298.34L501.46 297.53L502.07 296.72L502.69 295.91L503.30 295.10L503.91 294.29L504.52 293.49L505.13 292.68L505.75 291.88L506.36 291.08L506.97 290.28L507.58 289.48L508.19 288.68L508.81 287.89L509.42 287.10L510.23 286.05L511.05 285.00L511.87 283.96L512.68 282.92L513.50 281.89L514.31 280.86L515.13 279.84L515.95 278.83L516.76 277.82L517.58 276.81L518.39 275.82L519.21 274.82L520.03 273.84L520.84 272.86L521.66 271.89L522.48 270.93L523.29 269.97L524.11 269.02L524.92 268.08L525.74 267.14L526.56 266.22L527.37 265.30L528.19 264.39L529.00 263.49L529.82 262.60L530.64 261.72L531.45 260.85L532.27 259.98L533.08 259.13L533.90 258.29L534.72 257.45L535.53 256.63L536.35 255.81L537.16 255.00L537.98 254.21L538.80 253.42L539.61 252.64L540.43 251.87L541.24 251.11L542.06 250.36L542.88 249.62L543.69 248.89L544.51 248.17L545.32 247.46L546.14 246.76L546.96 246.06L547.77 245.38L548.59 244.70L549.40 244.04L550.22 243.38L551.04 242.74L551.85 242.10L552.67 241.47L553.48 240.85L554.30 240.23L555.12 239.62L555.93 239.01L556.75 238.41L557.56 237.82L558.38 237.22L559.20 236.63L559.40 236.50" stroke="#ece36a" stroke-opacity="0.90" stroke-width="2.20"/>
<path d="M396.40 368.90L397.42 368.90L398.44 368.90L399.46 368.90L400.48 368.90L401.50 368.90L402.52 368.90L403.54 368.90L404.56 368.90L405.58 368.90L406.60 368.90L407.62 368.90L408.64 368.90L409.66 368.90L410.68 368.90L411.70 368.90L412.72 368.88L413.74 368.84L414.76 368.80L415.78 368.74L416.80 368.68L417.82 368.59L418.84 368.48L419.86 368.36L420.88 368.22L421.90 368.06L422.92 367.89L423.94 367.70L424.96 367.49L425.98 367.26L427.00 367.01L428.02 366.74L429.04 366.44L430.06 366.13L431.08 365.78L432.10 365.42L433.12 365.03L434.14 364.61L435.16 364.16L436.18 363.69L437.20 363.20L438.22 362.67L439.24 362.12L440.26 361.54L441.28 360.93L442.30 360.30L443.32 359.64L444.34 358.96L445.36 358.25L446.18 357.67L446.99 357.07L447.81 356.45L448.63 355.83L449.44 355.18L450.26 354.52L451.07 353.85L451.89 353.16L452.71 352.46L453.52 351.74L454.34 351.01L455.15 350.26L455.97 349.50L456.79 348.73L457.60 347.94L458.42 347.15L459.23 346.33L460.05 345.51L460.87 344.68L461.68 343.83L462.50 342.97L463.31 342.10L464.13 341.23L464.95 340.34L465.76 339.44L466.58 338.54L467.39 337.62L468.21 336.70L469.03 335.77L469.84 334.84L470.66 333.89L471.47 332.95L472.29 331.99L473.11 331.03L473.92 330.06L474.74 329.09L475.55 328.11L476.37 327.13L477.19 326.14L478.00 325.15L478.82 324.15L479.63 323.14L480.45 322.13L481.27 321.12L482.08 320.10L482.90 319.08L483.71 318.06L484.53 317.03L485.35 316.00L486.16 314.96L486.98 313.92L487.79 312.88L488.61 311.84L489.43 310.79L490.24 309.73L490.85 308.94L491.47 308.15L492.08 307.36L492.69 306.56L493.30 305.76L493.91 304.97L494.53 304.17L495.14 303.37L495.75 302.57L496.36 301.77L496.97 300.97L497.59 300.16L498.20 299.36L498.81 298.56L499.42 297.76L500.03 296.96L500.65 296.16L501.26 295.36L501.87 294.56L502.48 293.76L503.09 292.96L503.71 292.17L504.32 291.37L504.93 290.58L505.54 289.79L506.36 288.73L507.17 287.69L507.99 286.64L508.81 285.60L509.62 284.56L510.44 283.53L511.25 282.51L512.07 281.48L512.89 280.47L513.70 279.46L514.52 278.45L515.33 277.45L516.15 276.46L516.97 275.48L517.78 274.49L518.60 273.52L519.42 272.55L520.23 271.59L521.05 270.64L521.86 269.69L522.68 268.75L523.50 267.82L524.31 266.90L525.13 265.98L525.94 265.08L526.76 264.18L527.58 263.29L528.39 262.41L529.21 261.53L530.02 260.67L530.84 259.82L531.66 258.98L532.47 258.15L533.29 257.33L534.10 256.53L534.92 255.73L535.74 254.94L536.55 254.16L537.37 253.39L538.18 252.63L539.00 251.89L539.82 251.15L540.63 250.42L541.45 249.71L542.26 249.00L543.08 248.31L543.90 247.62L544.71 246.95L545.53 246.29L546.34 245.63L547.16 244.99L547.98 244.36L548.79 243.74L549.61 243.14L550.42 242.54L551.24 241.95L552.06 241.37L553.08 240.66L554.10 239.97L555.12 239.28L556.14 238.60L557.16 237.94L558.18 237.27L559.20 236.61L559.40 236.50" stroke="#f37b3a" stroke-opacity="0.95" stroke-width="2.40"/>
<path d="M396.40 368.90L397.42 368.90L398.44 368.90L399.46 368.90L400.48 368.90L401.50 368.90L402.52 368.90L403.54 368.90L404.56 368.90L405.58 368.90L406.60 368.90L407.62 368.90L408.64 368.90L409.66 368.90L410.68 368.90L411.70 368.90L412.72 368.88L413.74 368.83L414.76 368.77L415.78 368.70L416.80 368.62L417.82 368.51L418.84 368.39L419.86 368.26L420.88 368.11L421.90 367.94L422.92 367.75L423.94 367.55L424.96 367.32L425.98 367.07L427.00 366.80L428.02 366.50L429.04 366.18L430.06 365.84L431.08 365.46L432.10 365.06L433.12 364.64L434.14 364.18L435.16 363.70L436.18 363.18L437.20 362.64L438.22 362.07L439.24 361.46L440.26 360.83L441.28 360.17L442.30 359.48L443.32 358.76L444.14 358.17L444.95 357.56L445.77 356.93L446.59 356.29L447.40 355.64L448.22 354.96L449.03 354.28L449.85 353.57L450.67 352.86L451.48 352.12L452.30 351.38L453.11 350.62L453.93 349.84L454.75 349.05L455.56 348.25L456.38 347.43L457.19 346.61L458.01 345.77L458.83 344.91L459.64 344.05L460.46 343.17L461.27 342.29L462.09 341.39L462.91 340.49L463.72 339.57L464.54 338.65L465.35 337.72L466.17 336.78L466.99 335.83L467.80 334.88L468.62 333.92L469.43 332.96L470.25 331.99L471.07 331.01L471.88 330.03L472.70 329.05L473.51 328.06L474.33 327.07L475.15 326.08L475.96 325.08L476.78 324.08L477.59 323.07L478.41 322.07L479.23 321.05L480.04 320.04L480.86 319.02L481.67 318.00L482.49 316.98L483.31 315.96L484.12 314.93L484.94 313.90L485.75 312.87L486.57 311.83L487.39 310.80L488.20 309.76L489.02 308.71L489.83 307.67L490.65 306.62L491.47 305.57L492.28 304.52L493.10 303.47L493.91 302.42L494.53 301.63L495.14 300.83L495.75 300.04L496.36 299.25L496.97 298.46L497.59 297.66L498.20 296.87L498.81 296.08L499.42 295.29L500.03 294.50L500.85 293.44L501.67 292.39L502.48 291.34L503.30 290.29L504.11 289.25L504.93 288.21L505.75 287.17L506.56 286.13L507.38 285.10L508.19 284.08L509.01 283.06L509.83 282.04L510.64 281.03L511.46 280.02L512.27 279.02L513.09 278.03L513.91 277.04L514.72 276.05L515.54 275.08L516.35 274.11L517.17 273.14L517.99 272.19L518.80 271.24L519.62 270.29L520.44 269.36L521.25 268.43L522.07 267.51L522.88 266.59L523.70 265.69L524.52 264.79L525.33 263.90L526.15 263.02L526.96 262.15L527.78 261.29L528.60 260.44L529.41 259.59L530.23 258.76L531.04 257.94L531.86 257.14L532.68 256.34L533.49 255.56L534.31 254.78L535.12 254.02L535.94 253.27L536.76 252.53L537.57 251.80L538.39 251.08L539.20 250.37L540.02 249.68L540.84 248.99L541.65 248.32L542.47 247.66L543.28 247.01L544.10 246.38L544.92 245.75L545.73 245.14L546.55 244.54L547.36 243.95L548.38 243.23L549.40 242.53L550.42 241.85L551.44 241.19L552.46 240.55L553.48 239.92L554.50 239.30L555.52 238.70L556.54 238.11L557.56 237.52L558.58 236.94L559.40 236.50" stroke="#c3e07a" stroke-opacity="0.80" stroke-width="1.40"/>
<path d="M396.40 368.90L397.42 368.90L398.44 368.90L399.46 368.90L400.48 368.90L401.50 368.90L402.52 368.90L403.54 368.90L404.56 368.90L405.58 368.90L406.60 368.90L407.62 368.90L408.64 368.90L409.66 368.90L410.68 368.90L411.70 368.90L412.72 368.87L413.74 368.81L414.76 368.74L415.78 368.66L416.80 368.56L417.82 368.45L418.84 368.32L419.86 368.18L420.88 368.02L421.90 367.84L422.92 367.64L423.94 367.42L424.96 367.18L425.98 366.92L427.00 366.63L428.02 366.31L429.04 365.97L430.06 365.60L431.08 365.21L432.10 364.78L433.12 364.32L434.14 363.84L435.16 363.32L436.18 362.77L437.20 362.19L438.22 361.58L439.24 360.94L440.26 360.26L441.28 359.56L442.10 358.97L442.91 358.37L443.73 357.74L444.55 357.10L445.36 356.45L446.18 355.77L446.99 355.08L447.81 354.38L448.63 353.66L449.44 352.92L450.26 352.17L451.07 351.41L451.89 350.63L452.71 349.83L453.52 349.02L454.34 348.20L455.15 347.36L455.97 346.52L456.79 345.66L457.60 344.78L458.42 343.90L459.23 343.00L460.05 342.09L460.87 341.18L461.68 340.25L462.50 339.31L463.31 338.37L464.13 337.42L464.95 336.46L465.76 335.49L466.58 334.52L467.39 333.54L468.21 332.56L469.03 331.57L469.84 330.58L470.66 329.58L471.47 328.59L472.29 327.59L473.11 326.58L473.92 325.58L474.74 324.57L475.55 323.56L476.37 322.54L477.19 321.53L478.00 320.51L478.82 319.49L479.63 318.47L480.45 317.45L481.27 316.43L482.08 315.40L482.90 314.38L483.71 313.35L484.53 312.32L485.35 311.29L486.16 310.26L486.98 309.23L487.79 308.19L488.61 307.16L489.43 306.12L490.24 305.08L491.06 304.04L491.87 302.99L492.69 301.95L493.51 300.90L494.32 299.85L495.14 298.81L495.95 297.76L496.77 296.71L497.59 295.67L498.40 294.62L499.22 293.57L500.03 292.53L500.85 291.49L501.67 290.45L502.48 289.41L503.30 288.37L504.11 287.34L504.93 286.31L505.75 285.29L506.56 284.26L507.38 283.25L508.19 282.23L509.01 281.23L509.83 280.23L510.64 279.23L511.46 278.24L512.27 277.25L513.09 276.27L513.91 275.30L514.72 274.34L515.54 273.38L516.35 272.42L517.17 271.48L517.99 270.54L518.80 269.60L519.62 268.68L520.44 267.76L521.25 266.85L522.07 265.95L522.88 265.05L523.70 264.17L524.52 263.29L525.33 262.42L526.15 261.56L526.96 260.71L527.78 259.86L528.60 259.03L529.41 258.21L530.23 257.41L531.04 256.61L531.86 255.83L532.68 255.06L533.49 254.30L534.31 253.55L535.12 252.81L535.94 252.09L536.76 251.38L537.57 250.68L538.39 249.99L539.20 249.31L540.02 248.65L540.84 248.00L541.65 247.36L542.47 246.73L543.28 246.11L544.10 245.51L544.92 244.93L545.94 244.21L546.96 243.51L547.98 242.84L549.00 242.19L550.02 241.55L551.04 240.94L552.06 240.35L553.08 239.77L554.10 239.22L555.12 238.67L556.14 238.14L557.16 237.61L558.18 237.10L559.20 236.59L559.40 236.50" stroke="#000" stroke-width="2.10"/>
<path d="M396.40 368.90L397.42 368.90L398.44 368.90L399.46 368.90L400.48 368.90L401.50 368.90L402.52 368.90L403.54 368.90L404.56 368.90L405.58 368.90L406.60 368.90L407.62 368.90L408.64 368.90L409.66 368.90L410.68 368.90L411.70 368.90L412.72 368.90L413.74 368.90L414.76 368.90L415.78 368.90L416.80 368.90L417.82 368.85L418.84 368.77L419.86 368.68L420.88 368.57L421.90 368.46L422.92 368.33L423.94 368.19L424.96 368.04L425.98 367.87L427.00 367.69L428.02 367.50L429.04 367.28L430.06 367.06L431.08 366.81L432.10 366.55L433.12 366.27L434.14 365.98L435.16 365.66L436.18 365.33L437.20 364.98L438.22 364.61L439.24 364.22L440.26 363.81L441.28 363.38L442.30 362.93L443.32 362.46L444.34 361.97L445.36 361.46L446.38 360.93L447.40 360.37L448.42 359.79L449.44 359.20L450.46 358.57L451.48 357.93L452.50 357.26L453.52 356.57L454.54 355.85L455.36 355.26L456.17 354.66L456.99 354.04L457.81 353.40L458.62 352.76L459.44 352.09L460.25 351.41L461.07 350.72L461.89 350.01L462.70 349.29L463.52 348.56L464.33 347.81L465.15 347.04L465.97 346.27L466.78 345.48L467.60 344.68L468.41 343.86L469.23 343.03L470.05 342.19L470.86 341.34L471.68 340.48L472.49 339.60L473.31 338.71L474.13 337.81L474.94 336.90L475.76 335.98L476.57 335.04L477.39 334.10L478.21 333.14L479.02 332.18L479.84 331.20L480.65 330.21L481.47 329.22L482.29 328.21L483.10 327.20L483.92 326.17L484.73 325.14L485.55 324.11L486.37 323.06L487.18 322.01L487.79 321.22L488.41 320.42L489.02 319.62L489.63 318.82L490.24 318.01L490.85 317.20L491.47 316.39L492.08 315.58L492.69 314.76L493.30 313.94L493.91 313.12L494.53 312.30L495.14 311.47L495.75 310.65L496.36 309.82L496.97 308.99L497.59 308.16L498.20 307.33L498.81 306.50L499.42 305.67L500.03 304.83L500.65 304.00L501.26 303.16L501.87 302.33L502.48 301.50L503.09 300.66L503.71 299.83L504.32 299.00L504.93 298.17L505.54 297.33L506.15 296.51L506.77 295.68L507.38 294.85L507.99 294.02L508.60 293.20L509.21 292.38L509.83 291.56L510.44 290.74L511.05 289.93L511.66 289.11L512.27 288.30L512.89 287.49L513.50 286.68L514.11 285.88L514.72 285.08L515.33 284.28L515.95 283.49L516.56 282.69L517.37 281.64L518.19 280.59L519.01 279.55L519.82 278.52L520.64 277.49L521.46 276.46L522.27 275.44L523.09 274.43L523.90 273.43L524.72 272.43L525.54 271.44L526.35 270.46L527.17 269.48L527.98 268.52L528.80 267.55L529.62 266.60L530.43 265.65L531.25 264.72L532.06 263.78L532.88 262.86L533.70 261.94L534.51 261.03L535.33 260.13L536.14 259.24L536.96 258.35L537.78 257.47L538.59 256.60L539.41 255.74L540.22 254.88L541.04 254.03L541.86 253.18L542.67 252.35L543.49 251.52L544.30 250.69L545.12 249.88L545.94 249.07L546.75 248.26L547.57 247.47L548.38 246.68L549.20 245.89L550.02 245.11L550.83 244.34L551.65 243.57L552.46 242.81L553.28 242.05L554.10 241.30L554.91 240.55L555.73 239.81L556.54 239.06L557.36 238.32L558.18 237.59L558.99 236.85L559.40 236.50" stroke="#000" stroke-width="2.10" stroke-dasharray="4 4"/>
</g>
<rect x="396.40" y="236.50" width="163.00" height="132.40" fill="none" stroke="#858585" stroke-width="1"/>
<text x="392.10" y="373.20" font-size="13.80" text-anchor="end">0</text>
<text x="392.10" y="346.72" font-size="13.80" text-anchor="end">0.2</text>
<text x="392.10" y="320.24" font-size="13.80" text-anchor="end">0.4</text>
<text x="392.10" y="293.76" font-size="13.80" text-anchor="end">0.6</text>
<text x="392.10" y="267.28" font-size="13.80" text-anchor="end">0.8</text>
<text x="392.10" y="240.80" font-size="13.80" text-anchor="end">1</text>
<text x="396.40" y="382.50" font-size="13.80" text-anchor="middle">0</text>
<text x="429.00" y="382.50" font-size="13.80" text-anchor="middle">2</text>
<text x="461.60" y="382.50" font-size="13.80" text-anchor="middle">4</text>
<text x="494.20" y="382.50" font-size="13.80" text-anchor="middle">6</text>
<text x="526.80" y="382.50" font-size="13.80" text-anchor="middle">8</text>
<text x="559.40" y="382.50" font-size="13.80" text-anchor="middle">10</text>
<text x="477.90" y="402.40" font-size="13.80" text-anchor="middle" textLength="93.5" lengthAdjust="spacing">PM2.5 [<tspan font-style="italic">μ</tspan>m/m<tspan font-size="9.6" dy="-5.2">3</tspan><tspan dy="5.2">]</tspan></text>
<text transform="translate(362.80 302.70) rotate(-90)" font-size="13.80" text-anchor="middle" textLength="59" lengthAdjust="spacing">cum. freq.</text>
<text x="477.90" y="220.30" font-size="13.80" text-anchor="middle">(e)</text>
</svg></body></html>
